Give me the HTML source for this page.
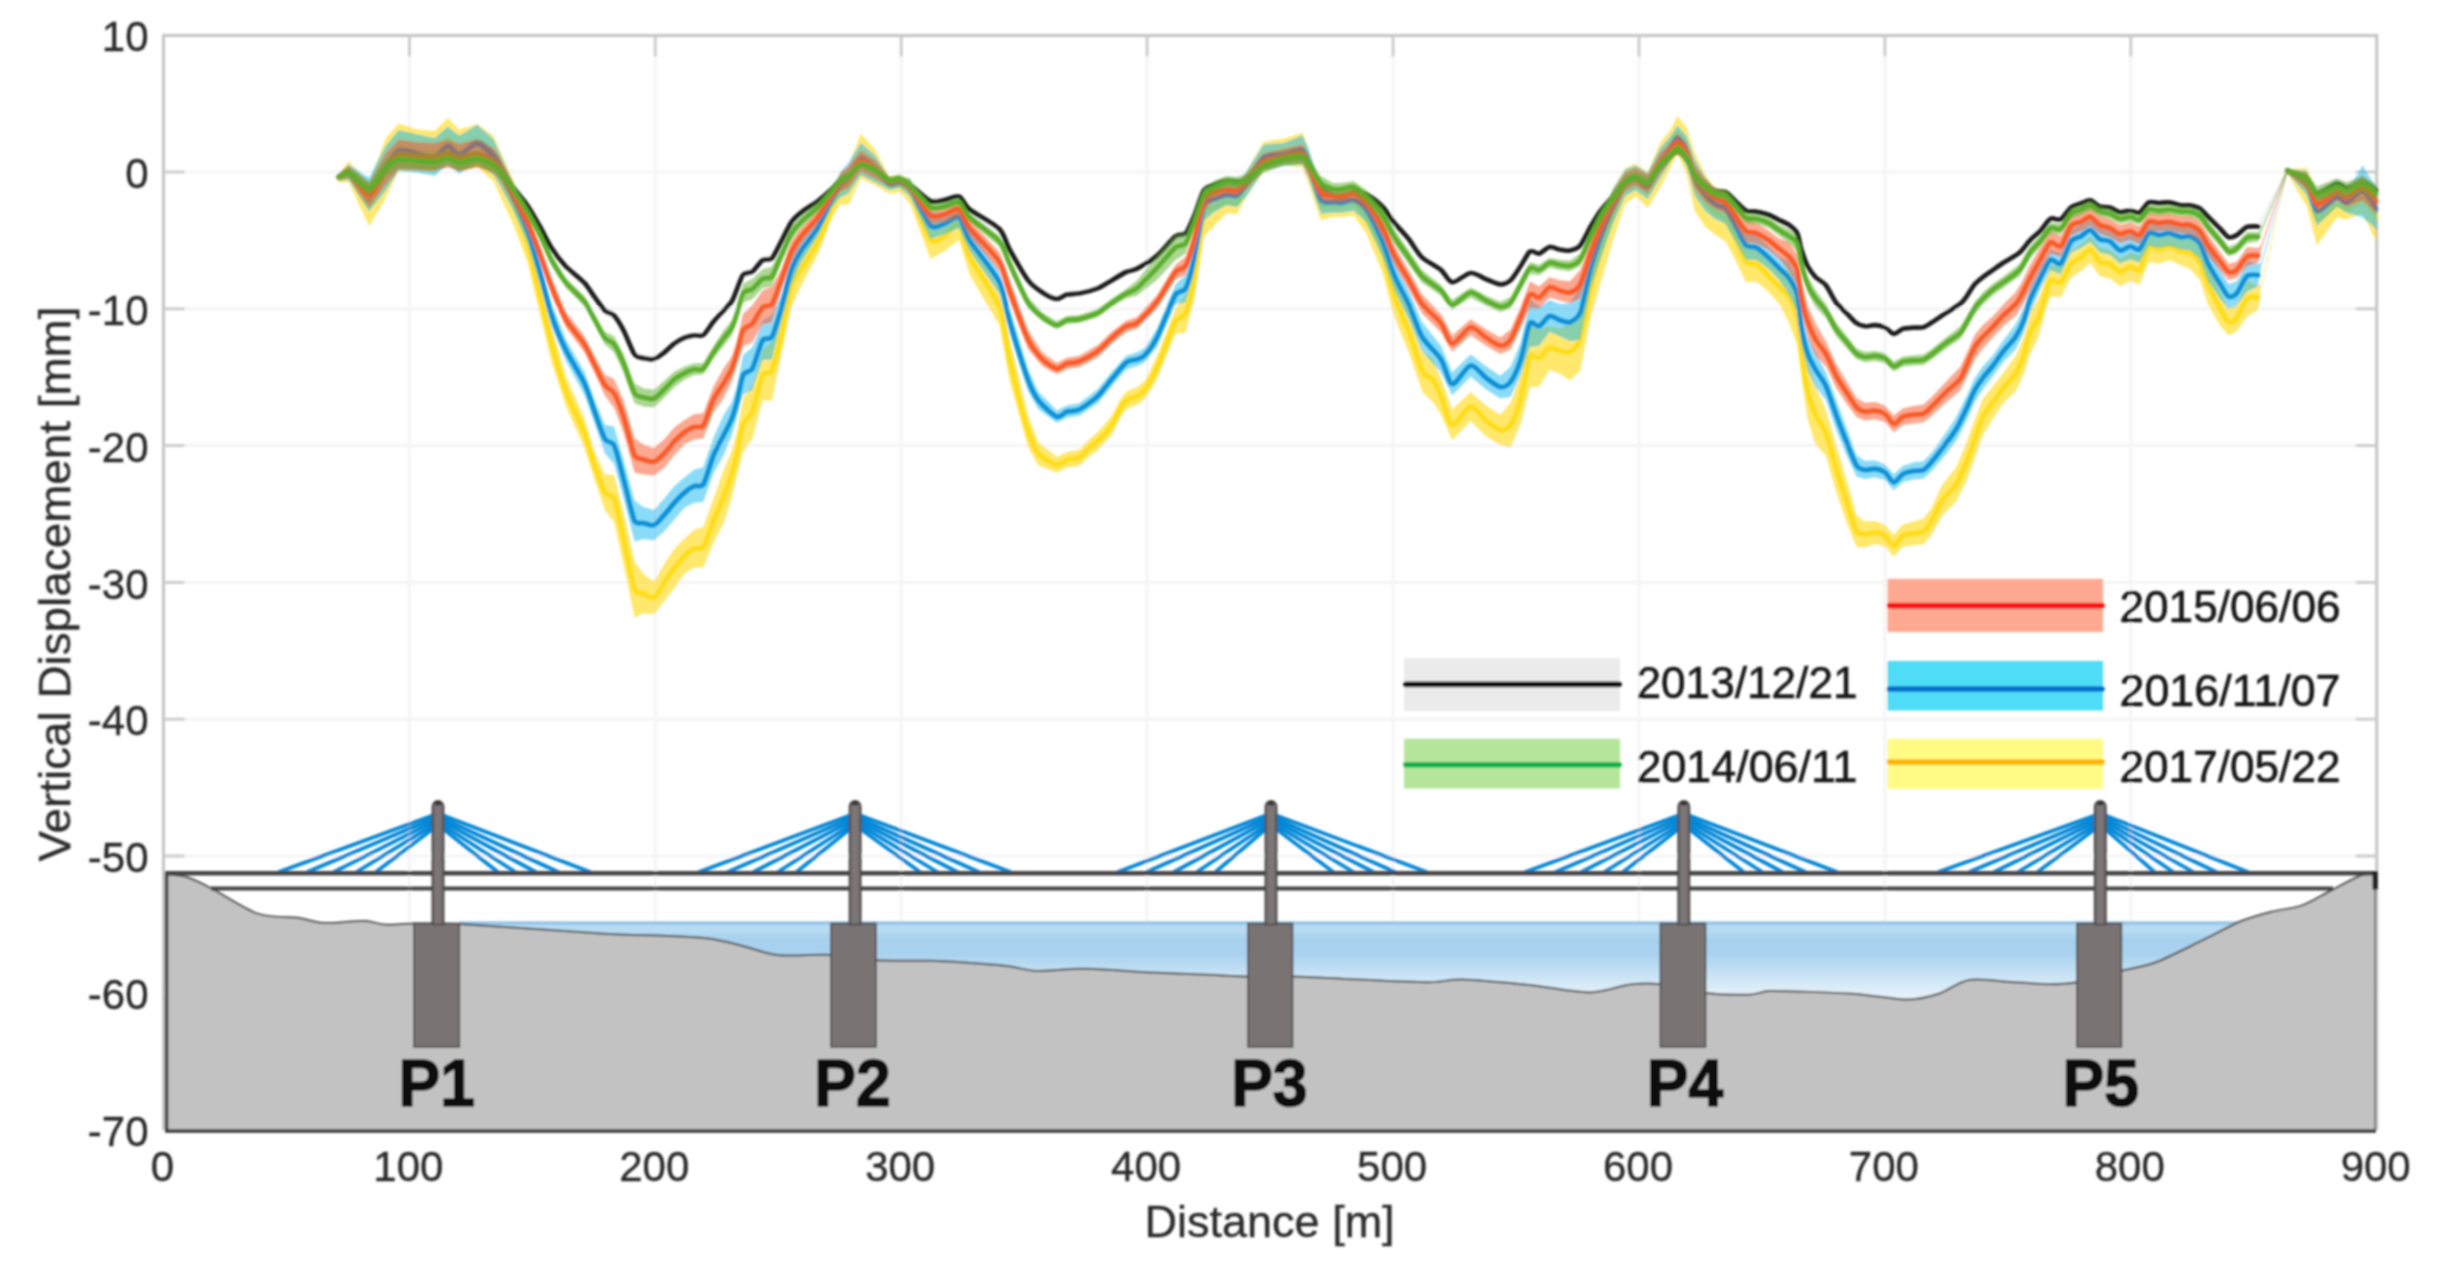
<!DOCTYPE html>
<html lang="en"><head><meta charset="utf-8"><title>Vertical displacement along bridge</title>
<style>html,body{margin:0;padding:0;background:#fff}body{width:2442px;height:1272px;overflow:hidden}svg{display:block}text{font-family:"Liberation Sans",Arial,Helvetica,sans-serif;fill:#2b2b2b;stroke:#2b2b2b;stroke-width:0.35px}</style></head><body>
<svg width="2442" height="1272" viewBox="0 0 2442 1272">
<defs>
<linearGradient id="water" x1="0" y1="921" x2="0" y2="1003" gradientUnits="userSpaceOnUse"><stop offset="0" stop-color="#7fb4dc"/><stop offset="0.03" stop-color="#8fc0e4"/><stop offset="0.05" stop-color="#b6daf2"/><stop offset="0.13" stop-color="#b7dbf3"/><stop offset="0.21" stop-color="#a7d1ee"/><stop offset="0.40" stop-color="#a8d2ef"/><stop offset="0.75" stop-color="#d5e8f7"/><stop offset="1" stop-color="#ecf5fc"/></linearGradient>
<linearGradient id="tower" x1="0" y1="0" x2="1" y2="0"><stop offset="0" stop-color="#5a5656"/><stop offset="0.25" stop-color="#7c7676"/><stop offset="0.75" stop-color="#7c7676"/><stop offset="1" stop-color="#5a5656"/></linearGradient>
<clipPath id="plot"><rect x="163.5" y="35.5" width="2214.7" height="1094.5"/></clipPath>
<filter id="soft" x="-2%" y="-2%" width="104%" height="104%"><feGaussianBlur stdDeviation="0.95"/></filter>
</defs>
<rect width="2442" height="1272" fill="#fff"/>
<g filter="url(#soft)">
<g stroke="#f5f5f5" stroke-width="3.2" fill="none">
<line x1="409.4" y1="35.5" x2="409.4" y2="1130"/>
<line x1="655.3" y1="35.5" x2="655.3" y2="1130"/>
<line x1="901.2" y1="35.5" x2="901.2" y2="1130"/>
<line x1="1147.1" y1="35.5" x2="1147.1" y2="1130"/>
<line x1="1393.1" y1="35.5" x2="1393.1" y2="1130"/>
<line x1="1639" y1="35.5" x2="1639" y2="1130"/>
<line x1="1884.9" y1="35.5" x2="1884.9" y2="1130"/>
<line x1="2130.8" y1="35.5" x2="2130.8" y2="1130"/>
<line x1="163.5" y1="172" x2="2376.7" y2="172"/>
<line x1="163.5" y1="308.8" x2="2376.7" y2="308.8"/>
<line x1="163.5" y1="445.6" x2="2376.7" y2="445.6"/>
<line x1="163.5" y1="582.4" x2="2376.7" y2="582.4"/>
<line x1="163.5" y1="719.2" x2="2376.7" y2="719.2"/>
<line x1="163.5" y1="856" x2="2376.7" y2="856"/>
<line x1="163.5" y1="992.8" x2="2376.7" y2="992.8"/>
</g>
<g stroke="#c4c4c4" stroke-width="3" fill="none">
<path d="M163.5 1130 V35.5 H2376.7 V1130"/>
</g>
<g stroke="#cbcbcb" stroke-width="2.8" fill="none">
<line x1="409.4" y1="35.5" x2="409.4" y2="56.5"/>
<line x1="655.3" y1="35.5" x2="655.3" y2="56.5"/>
<line x1="901.2" y1="35.5" x2="901.2" y2="56.5"/>
<line x1="1147.1" y1="35.5" x2="1147.1" y2="56.5"/>
<line x1="1393.1" y1="35.5" x2="1393.1" y2="56.5"/>
<line x1="1639" y1="35.5" x2="1639" y2="56.5"/>
<line x1="1884.9" y1="35.5" x2="1884.9" y2="56.5"/>
<line x1="2130.8" y1="35.5" x2="2130.8" y2="56.5"/>
<line x1="163.5" y1="172" x2="184.5" y2="172"/>
<line x1="2376.7" y1="172" x2="2355.7" y2="172"/>
<line x1="163.5" y1="308.8" x2="184.5" y2="308.8"/>
<line x1="2376.7" y1="308.8" x2="2355.7" y2="308.8"/>
<line x1="163.5" y1="445.6" x2="184.5" y2="445.6"/>
<line x1="2376.7" y1="445.6" x2="2355.7" y2="445.6"/>
<line x1="163.5" y1="582.4" x2="184.5" y2="582.4"/>
<line x1="2376.7" y1="582.4" x2="2355.7" y2="582.4"/>
<line x1="163.5" y1="719.2" x2="184.5" y2="719.2"/>
<line x1="2376.7" y1="719.2" x2="2355.7" y2="719.2"/>
<line x1="163.5" y1="856" x2="184.5" y2="856"/>
<line x1="2376.7" y1="856" x2="2355.7" y2="856"/>
<line x1="163.5" y1="992.8" x2="184.5" y2="992.8"/>
<line x1="2376.7" y1="992.8" x2="2355.7" y2="992.8"/>
</g>
<g clip-path="url(#plot)" fill="none" stroke-linejoin="round" stroke-linecap="round">
<polygon fill="#d8d8d8" fill-opacity="0.55" stroke="none" stroke-linejoin="round" points="338.8,174.5 348.7,168 369.1,196.1 385.5,160.4 398.6,142.2 418.3,147.7 434.7,149.3 447.8,141.1 459.2,147.6 477.2,136.2 493.6,148.3 500.2,160.4 512.8,182.4 527.1,200.8 539.4,221.2 551.7,243.9 566,262.8 584.4,279.2 594.7,293.6 604.9,306.8 614.1,311.7 623.3,326.1 634.6,350.9 643.8,355.1 654,356.1 664.3,349.4 674.5,340.1 684.8,334.7 694,332.2 703.2,331.9 713.4,318.4 723.7,306.5 731.8,297.4 737,285.2 743.1,270.9 752.3,268.2 762.6,257 771.8,254.6 781,238.2 791.2,218.7 801.5,208.8 817.8,197.8 832.2,185.5 840.4,176.2 848.6,172.3 860.8,161.3 875.2,167.4 889.5,177.6 899.7,175.5 910,181.6 930.5,198.1 944.8,197.2 959.1,193.6 969.4,206.2 999.4,225.5 1009.6,245.6 1028,276.7 1042.4,289.5 1056.7,296.3 1066.9,291.8 1079.2,290.8 1097.7,285.6 1112,277.4 1126.3,269.2 1136.6,266.1 1157,252.6 1175.5,233 1185.7,229.5 1193.9,213.2 1204.1,186.6 1214.4,182 1226.7,178.3 1236.9,179.2 1247.1,176.1 1263.5,158.6 1284,151.1 1302.4,148.3 1308.6,158.3 1320.8,182.7 1333.1,193.6 1341.3,195.7 1353.6,189.6 1365.9,191.6 1382.3,203.5 1394.5,219.7 1408.9,236.1 1421.8,254.2 1441,267.3 1452.2,279.7 1470.6,270.6 1486,276.7 1500.3,281.8 1510.6,277.5 1520.8,263.1 1530,248.8 1539.2,251.1 1549.5,244.6 1559.7,247.1 1569.9,248 1580.2,242.5 1590.4,223.8 1600.7,207.3 1612.9,193.3 1625.2,179.4 1635.5,175.4 1647.7,181.5 1660,164.9 1670.3,154.9 1677.4,149.9 1686.7,156.8 1694.8,173 1705.1,183.3 1715.3,188.6 1725.6,189.7 1735.8,198.9 1746,208.1 1756.3,209.2 1768.6,212.3 1778.8,217.4 1789,221.9 1797.2,229.9 1801.3,246.2 1807.5,262.5 1815.6,273.7 1825.9,282.4 1836.1,299.9 1846.4,310.3 1856.6,320.8 1864.8,324 1875,323 1884.6,325.1 1893.8,331.6 1903,326.5 1913.2,325.4 1923.5,325 1931.7,320.3 1946,310.5 1960.3,301.2 1966.5,294 1974.7,281.7 1982.9,274.6 1993.1,267.6 2003.3,260.4 2019.7,250.1 2029.9,237.7 2040.2,228.6 2050.4,216.4 2060.7,216.9 2070.9,205.3 2081.1,201.3 2090.3,198.2 2099.6,204.4 2109.8,205.4 2120,210.1 2130.3,208.5 2139.5,210.5 2148.7,200.3 2158.9,200.9 2169.2,200.3 2181.5,203.4 2189.6,203.3 2199.9,206.3 2208.1,214.4 2220.4,226.8 2228.6,235.1 2236.7,233.1 2247,224.8 2258.2,224.5 2261,219.2 2287.2,168.2 2307,174.4 2316.9,188.5 2336.8,178.8 2346.7,183.3 2362.5,177.3 2376.9,185.1 2376.9,195.4 2362.5,187.4 2346.7,193.3 2336.8,188.9 2316.9,198 2307,182.4 2287.2,172.3 2261,223.2 2258.2,228.5 2247,229.1 2236.7,237.1 2228.6,239.2 2220.4,231.2 2208.1,219 2199.9,210.7 2189.6,207.5 2181.5,207.5 2169.2,204.4 2158.9,205.1 2148.7,204.5 2139.5,214.7 2130.3,212.6 2120,214.3 2109.8,209.6 2099.6,208.6 2090.3,202.4 2081.1,205.5 2070.9,209.7 2060.7,221.5 2050.4,221.1 2040.2,233.5 2029.9,242.8 2019.7,255 2003.3,265.1 1993.1,272.3 1982.9,279.6 1974.7,286.8 1966.5,299.1 1960.3,306.3 1946,315.3 1931.7,324.9 1923.5,329.5 1913.2,329.9 1903,330.9 1893.8,336 1884.6,329.5 1875,327.5 1864.8,328.5 1856.6,325.5 1846.4,315.6 1836.1,305.5 1825.9,288.2 1815.6,280.5 1807.5,269.2 1801.3,252.7 1797.2,236.3 1789,227.9 1778.8,222.2 1768.6,217 1756.3,213.9 1746,213 1735.8,203.8 1725.6,194.6 1715.3,193.6 1705.1,188.7 1694.8,178.6 1686.7,162 1677.4,154.6 1670.3,159.8 1660,170.2 1647.7,186.4 1635.5,180.2 1625.2,184.4 1612.9,199.2 1600.7,213.8 1590.4,230.1 1580.2,248.2 1569.9,253 1559.7,251.9 1549.5,249.4 1539.2,256.1 1530,254.3 1520.8,268.6 1510.6,282.9 1500.3,286.7 1486,281.6 1470.6,275.5 1452.2,284.7 1441,272.6 1421.8,260.1 1408.9,242.4 1394.5,226 1382.3,209.4 1365.9,196.8 1353.6,194.7 1341.3,200.8 1333.1,198.9 1320.8,189.3 1308.6,164.5 1302.4,154.1 1284,156.2 1263.5,164.2 1247.1,181.6 1236.9,184.6 1226.7,183.5 1214.4,187.9 1204.1,193.6 1193.9,220.2 1185.7,236.7 1175.5,239.3 1157,258.6 1136.6,271.7 1126.3,274.8 1112,283 1097.7,291.1 1079.2,296.2 1066.9,297.2 1056.7,301.7 1042.4,295.4 1028,283.6 1009.6,253.3 999.4,232.5 969.4,212.1 959.1,199.3 944.8,202.7 930.5,203.8 910,187.5 899.7,181.3 889.5,183.3 875.2,173.1 860.8,166.9 848.6,178.4 840.4,182.7 832.2,191.9 817.8,204.1 801.5,215.6 791.2,226.2 781,245.6 771.8,261.9 762.6,263.6 752.3,275 743.1,278.4 737,292.8 731.8,305.1 723.7,314.5 713.4,325.1 703.2,338.2 694,338.3 684.8,340.7 674.5,346.4 664.3,355.5 654,362 643.8,361.3 634.6,358.1 623.3,333.8 614.1,319.6 604.9,314.2 594.7,300.8 584.4,286.5 566,270.2 551.7,252.2 539.4,229.8 527.1,209.3 512.8,190.9 500.2,169.9 493.6,159.2 477.2,148.3 459.2,159.8 447.8,153.2 434.7,161.4 418.3,159.7 398.6,155.4 385.5,176.5 369.1,208 348.7,175.5 338.8,178.8"/>
<path stroke="#1e1e1e" stroke-width="4.7" d="M338.8 176.6C340.1 176 345.5 169 348.7 171.7C352.7 175.1 364.2 202.5 369.1 202C374.1 201.6 381.6 175.6 385.5 168.5C389.5 161.4 394.3 150.8 398.6 148.8C403 146.8 413.5 152.8 418.3 153.7C423.1 154.6 430.7 156.2 434.7 155.3C438.6 154.5 444.5 147.4 447.8 147.2C451 146.9 455.3 154.4 459.2 153.7C463.2 153.1 472.7 142.2 477.2 142.2C481.8 142.2 490.6 150.7 493.6 153.7C496.7 156.8 497.7 160.8 500.2 165.2C502.7 169.6 509.2 181.3 512.8 186.6C516.3 191.9 523.5 199.9 527.1 205C530.6 210.2 536.1 219.8 539.4 225.5C542.7 231.3 548.1 242.6 551.7 248C555.2 253.5 561.6 261.8 566 266.5C570.4 271.1 580.6 278.8 584.4 282.9C588.2 286.9 591.9 293.5 594.7 297.2C597.4 300.9 602.3 308 604.9 310.5C607.5 312.9 611.7 313 614.1 315.6C616.6 318.2 620.6 324.8 623.3 329.9C626.1 335.1 631.9 350.7 634.6 354.5C636.8 357.6 641.2 357.6 643.8 358.2C646.4 358.8 651.3 359.8 654 359C656.8 358.3 661.5 354.6 664.3 352.5C667 350.4 671.8 345.2 674.5 343.3C677.2 341.3 682.2 338.8 684.8 337.7C687.3 336.7 691.5 335.6 694 335.3C696.4 334.9 700.6 336.9 703.2 335.1C705.8 333.3 710.7 325 713.4 321.8C716.1 318.5 721.2 313.2 723.7 310.5C726.1 307.8 730.1 304.1 731.8 301.3C733.6 298.4 735.5 292.5 737 289C738.5 285.4 741.1 277 743.1 274.7C745.2 272.3 749.7 273.5 752.3 271.6C754.9 269.7 760 262.1 762.6 260.3C765.1 258.6 769.3 260.7 771.8 258.3C774.2 255.8 778.4 246.7 781 241.9C783.6 237.1 788.5 226.4 791.2 222.4C794 218.5 797.9 215.1 801.5 212.2C805 209.3 813.7 204.1 817.8 201C821.9 197.8 829.2 191.5 832.2 188.7C835.2 185.8 838.2 181.2 840.4 179.5C842.5 177.7 845.8 177.4 848.6 175.4C851.3 173.3 857.3 164.8 860.8 164.1C864.4 163.4 871.3 168.1 875.2 170.2C879 172.4 886.2 179.4 889.5 180.5C892.8 181.6 897 177.9 899.7 178.4C902.5 179 906.3 181.9 910 184.6C914.1 187.6 925.8 198.9 930.5 201C935.1 203 941 200.5 944.8 199.9C948.6 199.3 955.8 195.2 959.1 196.4C962.4 197.7 964.5 205.2 969.4 209.1C974.7 213.5 994 223.6 999.4 229C1004.7 234.4 1005.8 242.6 1009.6 249.5C1013.4 256.3 1023.7 274.4 1028 280.2C1032.4 285.9 1038.6 290 1042.4 292.5C1046.2 295 1053.4 298.7 1056.7 299C1060 299.3 1063.9 295.2 1066.9 294.5C1069.9 293.8 1075.1 294.3 1079.2 293.5C1083.3 292.7 1093.3 290.1 1097.7 288.4C1102 286.6 1108.2 282.4 1112 280.2C1115.8 278 1123 273.5 1126.3 272C1129.6 270.5 1133 270.8 1136.6 268.9C1140.7 266.7 1151.8 260 1157 255.6C1162.2 251.2 1171.6 239.2 1175.5 236.2C1178.7 233.6 1183.2 235.7 1185.7 233.1C1188.2 230.5 1191.4 222.4 1193.9 216.7C1196.3 211 1201.4 194.3 1204.1 190.1C1206.5 186.4 1211.4 186.2 1214.4 185C1217.4 183.7 1223.6 181.3 1226.7 180.9C1229.7 180.5 1234.2 182.2 1236.9 181.9C1239.6 181.6 1243.9 181.3 1247.1 178.8C1250.7 176.1 1258.6 164.8 1263.5 161.4C1268.4 158.1 1278.8 155 1284 153.6C1289.2 152.3 1299.1 150.2 1302.4 151.2C1305.7 152.2 1306.4 157.4 1308.6 161.4C1311 166.1 1317.6 181.4 1320.8 186C1324.1 190.6 1330.4 194.6 1333.1 196.2C1335.9 197.9 1338.6 198.8 1341.3 198.3C1344 197.7 1350.3 192.7 1353.6 192.1C1356.9 191.6 1362.1 192.3 1365.9 194.2C1369.7 196.1 1378.4 202.6 1382.3 206.5C1386.1 210.3 1391 218.5 1394.5 222.9C1398.1 227.2 1405.2 234.7 1408.9 239.2C1412.5 243.8 1417.6 253.1 1421.8 257.1C1426.1 261.2 1436.9 266.6 1441 269.9C1445 273.3 1448.3 281.8 1452.2 282.2C1456.2 282.6 1466.1 273.4 1470.6 273C1475.1 272.6 1482 277.7 1486 279.2C1490 280.7 1497.1 284.1 1500.3 284.3C1503.6 284.4 1507.8 282.6 1510.6 280.2C1513.3 277.7 1518.2 269.7 1520.8 265.8C1523.4 262 1527.6 253.2 1530 251.5C1532.5 249.9 1536.6 254.2 1539.2 253.6C1541.8 253 1546.7 247.6 1549.5 247C1552.2 246.5 1557 249 1559.7 249.5C1562.4 249.9 1567.2 251 1569.9 250.5C1572.7 249.9 1577.5 248.5 1580.2 245.4C1582.9 242.2 1587.7 231.6 1590.4 226.9C1593.1 222.3 1597.7 214.7 1600.7 210.6C1603.7 206.5 1609.7 200.1 1612.9 196.2C1616.2 192.4 1622.2 184.4 1625.2 181.9C1628.2 179.4 1632.5 177.5 1635.5 177.8C1638.5 178.1 1644.5 185.3 1647.7 183.9C1651 182.6 1657 171.1 1660 167.6C1663 164 1667.9 159.4 1670.3 157.3C1672.6 155.3 1675.3 151.9 1677.4 152.2C1679.6 152.5 1684.3 156.2 1686.7 159.4C1689 162.5 1692.4 172.2 1694.8 175.8C1697.3 179.3 1702.3 183.9 1705.1 186C1707.8 188 1712.6 190.3 1715.3 191.1C1718 191.9 1722.8 190.8 1725.6 192.1C1728.3 193.5 1733.1 198.9 1735.8 201.4C1738.5 203.8 1743.3 209.2 1746 210.6C1748.8 211.9 1753.3 211 1756.3 211.6C1759.3 212.1 1765.5 213.6 1768.6 214.7C1771.6 215.8 1776.1 218.4 1778.8 219.8C1781.5 221.1 1786.6 223.1 1789 224.9C1791.5 226.7 1795.6 229.8 1797.2 233.1C1798.9 236.4 1799.9 245.1 1801.3 249.5C1802.7 253.8 1805.5 262.2 1807.5 265.8C1809.4 269.5 1813.2 274.5 1815.6 277.1C1818.1 279.7 1823.2 281.9 1825.9 285.3C1828.6 288.7 1833.4 299 1836.1 302.7C1838.8 306.4 1843.6 310.2 1846.4 312.9C1849.1 315.7 1854.1 321.4 1856.6 323.2C1859 325 1862.3 326 1864.8 326.2C1867.2 326.5 1872.4 325.1 1875 325.2C1877.7 325.4 1882.1 326.1 1884.6 327.3C1887.1 328.4 1891.3 333.6 1893.8 333.8C1896.2 334 1900.4 329.5 1903 328.7C1905.6 327.9 1910.5 327.9 1913.2 327.7C1916 327.5 1921 328 1923.5 327.3C1925.9 326.6 1928.7 324.5 1931.7 322.6C1934.7 320.7 1942.2 315.5 1946 312.9C1949.8 310.4 1957.6 305.9 1960.3 303.7C1963.1 301.5 1964.6 299.2 1966.5 296.6C1968.4 294 1972.5 286.9 1974.7 284.3C1976.8 281.7 1980.4 279 1982.9 277.1C1985.3 275.2 1990.4 271.9 1993.1 269.9C1995.8 268 1999.8 265.1 2003.3 262.8C2006.9 260.5 2016.2 255.5 2019.7 252.5C2023.3 249.5 2027.2 243.1 2029.9 240.3C2032.7 237.4 2037.5 233.9 2040.2 231C2042.9 228.2 2047.7 220.3 2050.4 218.8C2053.1 217.2 2057.9 220.7 2060.7 219.2C2063.4 217.7 2068.2 209.6 2070.9 207.5C2073.6 205.4 2078.5 204.4 2081.1 203.4C2083.7 202.4 2087.9 199.9 2090.3 200.3C2092.8 200.7 2097 205.5 2099.6 206.5C2102.2 207.4 2107.1 206.7 2109.8 207.5C2112.5 208.3 2117.3 211.8 2120 212.2C2122.8 212.6 2127.7 210.5 2130.3 210.6C2132.9 210.6 2137 213.7 2139.5 212.6C2141.9 211.5 2146.1 203.7 2148.7 202.4C2151.3 201.1 2156.2 203 2158.9 203C2161.7 203 2166.2 202 2169.2 202.4C2172.2 202.7 2178.7 205 2181.5 205.4C2184.2 205.9 2187.2 205 2189.6 205.4C2192.1 205.9 2197.4 207 2199.9 208.5C2202.3 210 2205.3 214 2208.1 216.7C2210.8 219.4 2217.6 226.3 2220.4 229C2223.1 231.7 2226.4 236.4 2228.6 237.2C2230.7 238 2234.3 236.5 2236.7 235.1C2239.2 233.8 2244.1 228.1 2247 226.9C2249.8 225.8 2256.7 226.6 2258.2 226.5"/>
<path stroke="#1e1e1e" stroke-width="4.7" d="M2287.2 170.3C2289.8 171.3 2303.1 175.3 2307 178.4C2311 181.4 2313 192.5 2316.9 193.2C2320.9 194 2332.8 184.5 2336.8 183.8C2340.7 183.2 2343.2 188.5 2346.7 188.3C2350.1 188.1 2358.5 182.1 2362.5 182.3C2366.6 182.6 2375 189.2 2376.9 190.3"/>
<polygon fill="#ffd800" fill-opacity="0.58" stroke="none" stroke-linejoin="round" points="338.8,173.7 348.7,161.2 369.1,182.7 385.5,138.5 398.6,123.4 418.3,129.4 434.7,130.9 447.8,117.9 459.2,129.4 477.2,124 493.6,135.7 500.2,150.5 512.8,178.7 527.1,223 539.4,274.4 551.7,326.4 566,376.3 576.2,399.5 584.4,418.1 594.7,451.7 604.9,474.6 614.1,474.7 623.3,511.3 634.6,561.6 643.8,574.5 654,581.2 664.3,563.9 674.5,548.4 684.8,538.3 694,529.8 703.2,527 713.4,498.9 723.7,469.8 731.8,450.4 737,431.2 743.1,397.5 752.3,384.6 762.6,349.3 771.8,341.2 781,315.4 791.2,266.1 801.5,252.1 817.8,229.4 832.2,197 840.4,172.5 848.6,165.8 860.8,133.4 875.2,149.4 889.5,177 899.7,175.7 910,178.1 930.5,220.8 944.8,220.7 959.1,207.2 969.4,238.3 999.4,288.4 1009.6,338.4 1028,415.2 1038.3,441.7 1056.7,457.1 1066.9,452 1079.2,449.6 1089.5,439 1097.7,432.1 1112,415.4 1120.2,399.4 1126.3,391.4 1136.6,387.3 1144.8,380.7 1157,355.9 1165.2,335.6 1175.5,308.3 1185.7,293.6 1193.9,259.7 1204.1,190.6 1214.4,189.6 1226.7,189.6 1236.9,190.6 1247.1,170 1263.5,141.8 1284,138.5 1302.4,132.4 1308.6,149.1 1320.8,189 1333.1,193.9 1341.3,195 1353.6,191.4 1365.9,202.9 1382.3,230.9 1394.5,275.3 1408.9,310.3 1422.5,351.1 1432.8,358 1441,378 1452.2,409.5 1470.6,392.1 1486,405.4 1500.3,414.9 1510.6,402.5 1520.8,373 1530,324.9 1539.2,329.3 1549.5,325.7 1559.7,328.2 1569.9,323.2 1580.2,308.6 1590.4,261.6 1600.7,220.5 1612.9,189.1 1625.2,167.9 1635.5,163.4 1647.7,172.3 1660,143 1670.3,130.1 1677.4,116.1 1686.7,127.8 1694.8,152.9 1705.1,174.1 1715.3,190.4 1725.6,196 1735.8,217.6 1746,241.3 1756.3,246.2 1768.6,260.4 1778.8,269.5 1789,270.3 1797.2,289 1801.3,321 1807.5,361.2 1815.6,384.9 1825.9,410.1 1836.1,444.3 1846.4,479.2 1856.6,515.6 1864.8,521.6 1875,521.1 1884.6,524.5 1893.8,534.7 1903,524.4 1913.2,521.5 1923.5,518.5 1931.7,507.4 1941.9,485.2 1956.2,466.9 1966.5,442.6 1974.7,419.8 1982.9,398.4 1993.1,386.3 2003.3,372.9 2015.6,356 2023.8,336.2 2029.9,311.7 2038.1,298.8 2046.3,275.8 2050.4,263.9 2060.7,267.2 2070.9,249.9 2081.1,244.2 2090.3,236 2099.6,247.4 2109.8,249.2 2120,258 2130.3,252.4 2139.5,255.1 2148.7,232.9 2158.9,235.2 2169.2,232.8 2181.5,237.6 2189.6,236.6 2199.9,243.4 2208.1,263.7 2220.4,291.6 2228.6,308.7 2236.7,304.8 2247,280.4 2258.2,285.4 2261,283.4 2287.2,169.3 2307,167.7 2316.9,192.6 2336.8,192.6 2346.7,198.9 2362.5,184.7 2376.9,191.9 2376.9,242.2 2362.5,213.7 2346.7,219.3 2336.8,217.6 2316.9,245.4 2307,206.8 2287.2,173.6 2261,287.8 2258.2,309.7 2247,316.8 2236.7,331.3 2228.6,335.6 2220.4,326.1 2208.1,304.8 2199.9,280.1 2189.6,268.5 2181.5,265.4 2169.2,260 2158.9,263.7 2148.7,262 2139.5,284.7 2130.3,281.3 2120,286 2109.8,278.4 2099.6,276.1 2090.3,262.9 2081.1,271.1 2070.9,277.7 2060.7,297.2 2050.4,296.5 2046.3,309.1 2038.1,338.2 2029.9,353.9 2023.8,374.3 2015.6,391.4 2003.3,403.2 1993.1,418.5 1982.9,435 1974.7,458.6 1966.5,480.9 1956.2,501.6 1941.9,516.1 1931.7,534.9 1923.5,544.2 1913.2,545.3 1903,546.5 1893.8,556.7 1884.6,546.5 1875,543.7 1864.8,547.2 1856.6,547.1 1846.4,522.1 1836.1,491.4 1825.9,456 1815.6,444.4 1807.5,419 1801.3,377.3 1797.2,345.1 1789,322.8 1778.8,303.2 1768.6,291.7 1756.3,281.4 1746,282.2 1735.8,260.8 1725.6,241.5 1715.3,234.8 1705.1,226.6 1694.8,210.9 1686.7,174.6 1677.4,153.6 1670.3,168.2 1660,188.1 1647.7,207.9 1635.5,196.3 1625.2,204.1 1612.9,240.2 1600.7,282.5 1590.4,319.2 1580.2,370.6 1569.9,380.5 1559.7,373.4 1549.5,369.8 1539.2,386.6 1530,386.9 1520.8,423.6 1510.6,447.3 1500.3,445.2 1486,436.2 1470.6,420.9 1452.2,440.3 1441,414.5 1432.8,401.7 1422.5,392.2 1408.9,352.5 1394.5,317.8 1382.3,272.1 1365.9,232.6 1353.6,215.4 1341.3,217.1 1333.1,217 1320.8,219.9 1308.6,184 1302.4,167.9 1284,164.7 1263.5,171.6 1247.1,195.8 1236.9,214.2 1226.7,213.1 1214.4,225.4 1204.1,236.7 1193.9,300.6 1185.7,332.3 1175.5,334 1165.2,358.6 1157,379.3 1144.8,399.5 1136.6,405.1 1126.3,409.2 1120.2,417.6 1112,434.4 1097.7,450.5 1089.5,455.9 1079.2,465.7 1066.9,467.4 1056.7,472.5 1038.3,465.4 1028,446.9 1009.6,380.4 999.4,325.2 969.4,274.2 959.1,239.8 944.8,250.8 930.5,258.9 910,203.4 899.7,192.2 889.5,193.8 875.2,185.3 860.8,178.8 848.6,204.5 840.4,204.8 832.2,217.2 817.8,254.4 801.5,285 791.2,307.8 781,356.7 771.8,400.6 762.6,400.6 752.3,439.1 743.1,452.1 737,475.8 731.8,497.5 723.7,523.1 713.4,543.1 703.2,567.5 694,567.6 684.8,573.4 674.5,587.9 664.3,601.1 654,614.5 643.8,612.9 634.6,617.7 623.3,563.6 614.1,522.3 604.9,510.2 594.7,479.8 584.4,447.9 576.2,429.7 566,406.5 551.7,362.2 539.4,311.8 527.1,260.8 512.8,223.2 500.2,196.2 493.6,181.6 477.2,167 459.2,171.4 447.8,160 434.7,173.2 418.3,171.5 398.6,170.9 385.5,198.4 369.1,226.3 348.7,182.2 338.8,182.8"/>
<path stroke="#ffdc14" stroke-width="4.7" d="M338.8 178.3C340.1 177.4 345.3 168.8 348.7 171.7C352.7 175.2 364.2 204.9 369.1 204.5C374.1 204.1 381.6 176.1 385.5 168.5C389.5 160.8 394.3 149.6 398.6 147.2C403 144.8 413.5 149.8 418.3 150.4C423.1 151.1 430.7 153.6 434.7 152.1C438.6 150.5 444.5 139.2 447.8 139C451 138.7 455.3 149.6 459.2 150.4C463.2 151.3 472.7 144.4 477.2 145.5C481.8 146.6 490.6 154.9 493.6 158.6C496.7 162.3 497.7 167.8 500.2 173.4C502.7 179 509.2 191.8 512.8 201C516.3 210.1 523.5 229.6 527.1 241.9C530.6 254.2 536.1 279.4 539.4 293.1C542.7 306.7 548.1 331.2 551.7 344.3C555.2 357.4 562.7 382 566 391.4C569.2 400.5 573.8 409 576.2 414.6C578.7 420.1 582 426.2 584.4 433C586.9 439.8 591.9 457.8 594.7 465.8C597.4 473.7 602.3 488 604.9 492.4C607 496 612.5 494.6 614.1 498.5C616.6 504.5 620.6 525.3 623.3 537.4C626.1 549.6 631.9 582.1 634.6 589.6C635.9 593.2 641.2 592.6 643.8 593.7C646.4 594.8 651.3 599.3 654 597.8C656.8 596.3 661.5 586.4 664.3 582.5C667 578.5 671.8 571.7 674.5 568.1C677.2 564.6 682.2 558.4 684.8 555.8C687.3 553.3 691.5 549.8 694 548.7C696.4 547.5 701.1 550.1 703.2 547.2C705.8 543.6 710.7 527.8 713.4 521C716.1 514.3 721.2 502.7 723.7 496.5C726.1 490.2 730.1 479.7 731.8 473.9C733.6 468.2 735.5 460 737 453.5C738.5 446.9 741.1 430.4 743.1 424.8C745.2 419.3 750.1 417.5 752.3 411.8C754.9 405.2 760 380.4 762.6 375C764.2 371.5 770.1 374.4 771.8 370.9C774.2 365.7 778.4 347.3 781 336.1C783.6 324.9 788.5 296 791.2 286.9C793.5 279.3 797.9 274.5 801.5 268.5C805 262.5 813.7 250.1 817.8 241.9C821.9 233.7 829.2 214.2 832.2 207.1C835.2 200 838.2 191.6 840.4 188.7C842.4 186 846.8 188 848.6 185.2C851.3 180.8 857.3 158.5 860.8 156.1C864.4 153.7 871.3 163.5 875.2 167.4C879 171.3 886.2 183.2 889.5 185.4C892.8 187.6 897 183.2 899.7 184C902.5 184.7 907.7 186.6 910 190.7C914.1 198.2 925.8 233.8 930.5 239.9C933.9 244.3 941 237.9 944.8 235.8C948.6 233.6 955.8 220.7 959.1 223.5C962.4 226.2 964 245.1 969.4 256.2C974.7 267.3 994 293 999.4 306.8C1004.7 320.6 1005.8 342.8 1009.6 359.4C1013.4 375.9 1024.2 418.5 1028 431C1030.8 440 1034.5 449.1 1038.3 453.6C1042.1 458.1 1052.9 464 1056.7 464.8C1060.5 465.6 1063.9 460.7 1066.9 459.7C1069.9 458.7 1076.2 459.3 1079.2 457.7C1082.2 456 1087 449.6 1089.5 447.4C1091.9 445.2 1094.9 444 1097.7 441.3C1100.7 438.3 1109 429.3 1112 424.9C1115 420.5 1118.3 411.8 1120.2 408.5C1122.1 405.2 1124.1 402 1126.3 400.3C1128.5 398.7 1134.1 397.6 1136.6 396.2C1139 394.9 1142.5 393.3 1144.8 390.1C1147.5 386.3 1154.3 373.3 1157 367.6C1159.8 361.8 1162.8 353.3 1165.2 347.1C1167.7 340.9 1172.7 325.7 1175.5 321.1C1178 316.9 1183.7 317.5 1185.7 312.9C1188.2 307.5 1191.5 292.8 1193.9 280.2C1196.3 266.9 1201.4 223.3 1204.1 213.6C1205.4 209.3 1211.4 209.1 1214.4 207.5C1217.4 205.9 1223.6 202 1226.7 201.4C1229.7 200.7 1234.2 204.8 1236.9 202.4C1239.6 199.9 1243.6 189 1247.1 182.9C1250.7 176.8 1258.6 160.9 1263.5 156.7C1268.4 152.5 1278.8 152.5 1284 151.6C1289.2 150.7 1299.1 148.2 1302.4 150.2C1305.7 152.2 1306.4 160.2 1308.6 166.5C1311 173.8 1317.6 199.2 1320.8 204.4C1323.3 208.4 1330.4 205.2 1333.1 205.4C1335.9 205.7 1338.6 206.3 1341.3 206.1C1344 205.8 1350.3 201.8 1353.6 203.4C1356.9 205 1362.2 211.6 1365.9 217.7C1369.7 224.1 1378.4 241 1382.3 251.5C1386.1 262 1391 285.9 1394.5 296.6C1398.1 307.2 1405.1 321.4 1408.9 331.4C1412.6 341.4 1419.3 365.2 1422.5 371.7C1424.7 376.1 1430.3 376.6 1432.8 379.9C1435.2 383.1 1438.4 390.2 1441 396.2C1443.5 402.2 1448.3 423.5 1452.2 424.9C1456.2 426.3 1466.1 407 1470.6 406.5C1475.1 405.9 1482 417.7 1486 420.8C1490 423.9 1497.1 429.5 1500.3 430C1503.6 430.6 1508.2 428.6 1510.6 424.9C1513.3 420.7 1518.2 407.5 1520.8 398.3C1523.4 389.1 1527.6 361.3 1530 355.9C1531.5 352.7 1536.6 359.1 1539.2 358C1541.8 356.9 1546.7 348.7 1549.5 347.7C1552.2 346.8 1557 350.3 1559.7 350.8C1562.4 351.4 1567.2 353.3 1569.9 351.8C1572.7 350.3 1578.3 345.3 1580.2 339.6C1582.9 331.4 1587.7 302.2 1590.4 290.4C1593.1 278.7 1597.7 261.6 1600.7 251.5C1603.7 241.4 1609.7 223.4 1612.9 214.7C1616.2 205.9 1622.2 190.6 1625.2 186C1627.7 182.2 1632.5 179.3 1635.5 179.9C1638.5 180.4 1644.5 192 1647.7 190.1C1651 188.2 1657 171 1660 165.5C1663 160.1 1667.9 153.2 1670.3 149.1C1672.6 145 1675.3 134.5 1677.4 134.8C1679.6 135.1 1684.3 144.9 1686.7 151.2C1689 157.5 1692.4 175.3 1694.8 181.9C1697.3 188.5 1702.3 196.2 1705.1 200.3C1707.8 204.4 1712.6 210.2 1715.3 212.6C1718 215.1 1722.8 215.2 1725.6 218.8C1728.3 222.3 1733.1 233.5 1735.8 239.2C1738.5 245 1743.3 258.5 1746 261.8C1748.6 264.8 1753.3 261.9 1756.3 263.8C1759.3 265.7 1765.5 273.1 1768.6 276.1C1771.6 279.1 1776.1 283.6 1778.8 286.3C1781.5 289.1 1786.6 292.5 1789 296.6C1791.5 300.7 1795.6 310 1797.2 317C1798.9 324 1799.9 339.4 1801.3 349.1C1802.7 358.9 1805.5 381.4 1807.5 390.1C1809.4 398.8 1813.2 408.9 1815.6 414.7C1818.1 420.4 1823.2 426 1825.9 433.1C1828.6 440.2 1833.4 458.9 1836.1 467.9C1838.8 476.9 1843.6 492.2 1846.4 500.7C1849.1 509.1 1854.1 526.9 1856.6 531.4C1858.2 534.3 1862.3 534.3 1864.8 534.4C1867.2 534.6 1872.4 532.3 1875 532.4C1877.7 532.5 1882.1 533.7 1884.6 535.5C1887.1 537.2 1891.3 545.7 1893.8 545.7C1896.2 545.7 1900.4 537.1 1903 535.5C1905.6 533.8 1910.5 534 1913.2 533.4C1916 532.9 1921 533 1923.5 531.4C1925.9 529.7 1929.2 525.2 1931.7 521.1C1934.1 517 1938.6 505.6 1941.9 500.7C1945.2 495.7 1953 489.5 1956.2 484.3C1959.5 479.1 1964 467.8 1966.5 461.8C1968.9 455.7 1972.5 445.2 1974.7 439.2C1976.8 433.2 1980.4 421.6 1982.9 416.7C1985.3 411.8 1990.4 406.2 1993.1 402.4C1995.8 398.6 2000.3 391.9 2003.3 388C2006.3 384.2 2012.9 378.1 2015.6 373.7C2018.3 369.3 2021.9 360.7 2023.8 355.3C2025.7 349.8 2028 337.7 2029.9 332.8C2031.9 327.9 2035.9 323.8 2038.1 318.5C2040.3 313.1 2044.7 297.6 2046.3 292.5C2047.8 287.8 2048.5 281.5 2050.4 280.2C2052.3 278.8 2057.9 284.4 2060.7 282.2C2063.4 280 2068.2 267.1 2070.9 263.8C2073.6 260.5 2078.5 259.6 2081.1 257.7C2083.7 255.7 2087.9 248.9 2090.3 249.5C2092.8 250 2097 259.8 2099.6 261.8C2102.2 263.7 2107.1 262.4 2109.8 263.8C2112.5 265.2 2117.3 271.6 2120 272C2122.8 272.4 2127.7 267.1 2130.3 266.9C2132.9 266.6 2137 272.5 2139.5 269.9C2141.9 267.3 2146.1 250.2 2148.7 247.4C2151.3 244.7 2156.2 249.6 2158.9 249.5C2161.7 249.3 2166.2 246.1 2169.2 246.4C2172.2 246.7 2178.7 250.7 2181.5 251.5C2184.2 252.3 2187.2 251.2 2189.6 252.5C2192.1 253.9 2197.4 257.5 2199.9 261.8C2202.3 266 2205.3 278 2208.1 284.3C2210.8 290.6 2217.6 303.8 2220.4 308.8C2223.1 313.9 2226.4 320.9 2228.6 322.2C2230.7 323.4 2234.6 320.8 2236.7 318.1C2239.2 314.9 2244.1 301.3 2247 298.6C2249.8 295.9 2256.7 297.7 2258.2 297.6"/>
<path stroke="#ffdc14" stroke-width="4.7" d="M2287.2 171.4C2289.8 173.6 2303.1 181 2307 187.3C2311 193.6 2313 216.6 2316.9 219C2320.9 221.4 2332.8 206.5 2336.8 205.1C2340.6 203.9 2343.2 209.9 2346.7 209.1C2350.1 208.3 2358.5 198.1 2362.5 199.2C2366.6 200.2 2375 214.6 2376.9 217"/>
<polygon fill="#10b8f2" fill-opacity="0.5" stroke="none" stroke-linejoin="round" points="338.8,174.1 348.7,164.4 369.1,177.8 385.5,145.9 398.6,130 418.3,134.6 434.7,137.9 447.8,126.4 459.2,135.4 477.2,124.8 493.6,138.9 500.2,153.9 512.8,181.9 527.1,218.1 539.4,258.6 551.7,303.5 566,339.8 584.4,371.5 594.7,400.3 604.9,424.7 614.1,426.8 623.3,458.7 634.6,500.7 643.8,507.2 654,509.7 664.3,498.6 674.5,486 684.8,477.2 694,469.7 703.2,467.3 713.4,437.8 723.7,414.9 731.8,402.3 737,386.5 743.1,355.1 752.3,347.4 762.6,320.4 771.8,314.7 781,295.1 791.2,256.2 801.5,238.5 817.8,218.6 832.2,191.3 840.4,171.6 848.6,162.5 860.8,142.8 875.2,155.4 889.5,177.9 899.7,177 910,178.6 930.5,211.9 944.8,212.7 959.1,206.8 969.4,228.8 999.4,270.8 1009.6,308.1 1028,368.9 1038.3,391.4 1056.7,410.6 1066.9,405.6 1079.2,403.2 1097.7,389.2 1112,371.6 1126.3,355.7 1136.6,352.5 1144.8,348 1157,328.5 1175.5,284.4 1185.7,274.2 1193.9,245.2 1204.1,188.3 1214.4,186.3 1226.7,184.3 1236.9,184.4 1247.1,170.3 1263.5,144.5 1284,142.7 1302.4,135.2 1308.6,148.7 1320.8,186.4 1333.1,191.7 1341.3,192.8 1353.6,189.6 1365.9,197.3 1382.3,225.9 1394.5,261.2 1408.9,289.9 1421.8,321.8 1441,345.9 1452.2,372.6 1470.6,354.5 1486,366.3 1500.3,375.8 1510.6,366.7 1520.8,342.6 1530,299.3 1539.2,306.7 1549.5,300 1559.7,303.9 1569.9,303 1580.2,286.1 1590.4,251 1600.7,216.3 1612.9,189.1 1625.2,169.6 1635.5,165.5 1647.7,172.8 1660,148.2 1670.3,136.3 1677.4,125.5 1686.7,136.1 1694.8,159.6 1705.1,177.3 1715.3,189.5 1725.6,193.2 1735.8,211.9 1746,231 1756.3,234.8 1768.6,246.2 1778.8,256 1789,261.3 1797.2,277.6 1801.3,310.4 1807.5,335.9 1815.6,351.9 1825.9,371.9 1836.1,399.8 1846.4,427.6 1856.6,455.3 1864.8,460.9 1875,460.6 1884.6,464 1893.8,474.2 1903,466 1913.2,462.5 1923.5,461.2 1931.7,452.5 1946,432.4 1956.2,417 1966.5,396.3 1974.7,378.1 1982.9,366.3 1993.1,355 2003.3,340.5 2015.6,324.3 2023.8,307.3 2029.9,286.3 2040.2,266.2 2050.4,249.1 2060.7,253 2070.9,229.8 2081.1,224.4 2090.3,218 2099.6,226 2109.8,227.8 2120,237.4 2130.3,233.4 2139.5,236.3 2148.7,220.1 2158.9,222.3 2169.2,220.5 2181.5,224.5 2189.6,222.1 2199.9,227.7 2208.1,246.2 2220.4,269 2228.6,284.2 2236.7,281.3 2247,260.5 2258.2,263.8 2261,262.9 2287.2,168.9 2307,171.1 2316.9,196.2 2336.8,187.9 2346.7,192.6 2362.5,165.2 2376.9,188.5 2376.9,229.7 2362.5,217.3 2346.7,212.8 2336.8,206.5 2316.9,226 2307,195.6 2287.2,173.1 2261,267.3 2258.2,286.3 2247,291.7 2236.7,305.7 2228.6,308.9 2220.4,299.5 2208.1,281.4 2199.9,259 2189.6,250.2 2181.5,249.8 2169.2,245.7 2158.9,248 2148.7,246.1 2139.5,262.7 2130.3,259.4 2120,263.5 2109.8,254.7 2099.6,252.5 2090.3,242.1 2081.1,247.9 2070.9,252.7 2060.7,274.6 2050.4,270.3 2040.2,290 2029.9,313.7 2023.8,333.8 2015.6,349.5 2003.3,361.9 1993.1,376 1982.9,389.3 1974.7,402.1 1966.5,420.7 1956.2,441 1946,454.3 1931.7,471 1923.5,478.7 1913.2,479.4 1903,482 1893.8,490.2 1884.6,480 1875,477.2 1864.8,479 1856.6,476.4 1846.4,455 1836.1,429.5 1825.9,400.1 1815.6,387.4 1807.5,370.6 1801.3,344.2 1797.2,311.5 1789,295 1778.8,279.8 1768.6,269.1 1756.3,260 1746,259.8 1735.8,241.9 1725.6,223.9 1715.3,219.3 1705.1,211.1 1694.8,196 1686.7,166.3 1677.4,150.3 1670.3,162 1660,178.7 1647.7,199.2 1635.5,190.2 1625.2,196.3 1612.9,223.9 1600.7,258.1 1590.4,288.9 1580.2,339.8 1569.9,341.3 1559.7,336.3 1549.5,332 1539.2,345.7 1530,347 1520.8,376.1 1510.6,397.1 1500.3,398.2 1486,389.3 1470.6,376.5 1452.2,395.3 1441,372.9 1421.8,351.1 1408.9,319.6 1394.5,291 1382.3,256.6 1365.9,221.7 1353.6,210.7 1341.3,212.8 1333.1,212.7 1320.8,213.8 1308.6,178.3 1302.4,164.7 1284,165.9 1263.5,170.5 1247.1,195.6 1236.9,207.2 1226.7,205.3 1214.4,211.9 1204.1,220.5 1193.9,274.2 1185.7,302.5 1175.5,304.6 1157,346.6 1144.8,362.6 1136.6,366.2 1126.3,369.2 1112,386.1 1097.7,403.3 1079.2,415.8 1066.9,417.6 1056.7,422.8 1038.3,409.3 1028,390.8 1009.6,334.2 999.4,293.7 969.4,250.9 959.1,227.9 944.8,234.3 930.5,239.1 910,196.7 899.7,188.1 889.5,190 875.2,182.6 860.8,175.2 848.6,193.5 840.4,197.5 832.2,206.5 817.8,236.5 801.5,261.7 791.2,284.9 781,323.8 771.8,359.6 762.6,359.9 752.3,390.3 743.1,394.8 737,416.7 731.8,435.1 723.7,455.2 713.4,473.2 703.2,501.9 694,502.8 684.8,507.5 674.5,519.3 664.3,531.2 654,540.6 643.8,539 634.6,541.4 623.3,497.4 614.1,463.8 604.9,453.6 594.7,423.4 584.4,394.8 566,361 551.7,327.7 539.4,282.6 527.1,241.2 512.8,209.8 500.2,186.3 493.6,175 477.2,163 459.2,173.7 447.8,164.6 434.7,176 418.3,172.8 398.6,170.9 385.5,191 369.1,211.5 348.7,180.1 338.8,180.8"/>
<path stroke="#0b8fd6" stroke-width="4.7" d="M338.8 177.5C340.1 176.8 345 170.1 348.7 172.2C352.7 174.5 364.2 195.2 369.1 194.7C374.1 194.2 381.6 174.3 385.5 168.5C389.5 162.6 394.3 152.4 398.6 150.4C403 148.5 413.5 152.8 418.3 153.7C423.1 154.6 430.7 158.1 434.7 157C438.6 155.9 444.5 145.8 447.8 145.5C451 145.2 455.3 154.7 459.2 154.5C463.2 154.3 472.7 143.6 477.2 143.9C481.8 144.2 490.6 153.5 493.6 157C496.7 160.5 497.7 165.1 500.2 170.1C502.7 175.3 509.2 187.9 512.8 195.8C516.3 203.8 523.5 219.7 527.1 229.6C530.6 239.6 536.1 259.1 539.4 270.6C542.7 282 548.1 305 551.7 315.6C555.2 326.3 561.6 341.4 566 350.4C570.4 359.4 580.6 375 584.4 383.2C588.2 391.4 591.9 404.4 594.7 411.8C597.4 419.3 602.3 434.7 604.9 439.1C607 442.8 612.3 441.5 614.1 445.3C616.6 450.5 620.6 467.9 623.3 478C626.1 488.1 631.9 515 634.6 521C636.1 524.3 641.2 522.5 643.8 523.1C646.4 523.6 651.3 526.2 654 525.1C656.8 524 661.5 517.9 664.3 514.9C667 511.9 671.8 505.6 674.5 502.6C677.2 499.6 682.2 494.6 684.8 492.4C687.3 490.2 691.5 487.3 694 486.2C696.4 485.2 701.3 487.6 703.2 484.6C705.8 480.5 710.7 462.1 713.4 455.5C716.1 448.9 721.2 440 723.7 435C726.1 430.1 730.1 423.1 731.8 418.7C733.6 414.2 735.5 407.4 737 401.6C738.5 395.8 741.1 379.4 743.1 375C744.9 371.2 750.3 372.5 752.3 368.8C754.9 364.2 760 344.4 762.6 340.2C764.5 337 769.9 340.3 771.8 337.1C774.2 333 778.4 318.3 781 309.5C783.6 300.6 788.5 278.5 791.2 270.6C794 262.6 797.9 255.8 801.5 250.1C805 244.4 813.7 234.4 817.8 227.6C821.9 220.7 829.2 204.6 832.2 198.9C835.1 193.3 838.2 187.4 840.4 184.6C842.5 181.8 846.1 181.1 848.6 178C851.3 174.6 857.3 160.2 860.8 159C864.4 157.8 871.3 165.7 875.2 169C879 172.3 886.2 182.2 889.5 184C892.8 185.8 897 182 899.7 182.5C902.5 183 907.4 184.1 910 187.6C914.1 193.4 925.8 220.7 930.5 225.5C934.3 229.5 941 224.6 944.8 223.5C948.6 222.4 955.8 215.1 959.1 217.3C962.4 219.5 964.4 231.9 969.4 239.9C974.7 248.5 994 271.4 999.4 282.2C1004.7 293.1 1005.8 308.1 1009.6 321.1C1013.4 334.1 1024.2 369.3 1028 379.9C1031 388 1034.5 395.4 1038.3 400.3C1042.1 405.2 1052.9 415.2 1056.7 416.7C1060.5 418.2 1063.9 412.5 1066.9 411.6C1069.9 410.6 1075.1 411.6 1079.2 409.5C1083.3 407.5 1093.3 400.3 1097.7 396.2C1102 392.1 1108.2 383.3 1112 378.8C1115.8 374.3 1123 365 1126.3 362.4C1129.5 359.9 1134.1 360.3 1136.6 359.4C1139 358.4 1142.4 357.8 1144.8 355.3C1147.5 352.4 1153.3 344.8 1157 337.5C1161.1 329.4 1171.6 301.1 1175.5 294.5C1177.7 290.6 1183.6 292.4 1185.7 288.4C1188.2 283.7 1191.5 270.8 1193.9 259.7C1196.3 248.5 1201.4 212.5 1204.1 204.4C1205.5 200.3 1211.4 200.4 1214.4 199.1C1217.4 197.8 1223.6 195.2 1226.7 194.8C1229.7 194.4 1234.2 197.4 1236.9 195.8C1239.6 194.2 1243.6 188 1247.1 182.9C1250.7 177.8 1258.6 161.4 1263.5 157.5C1268.4 153.7 1278.8 155.3 1284 154.3C1289.2 153.2 1299.1 148.7 1302.4 150C1305.7 151.2 1306.6 158.2 1308.6 163.5C1311 170.2 1317.6 195 1320.8 200.1C1323.4 204.1 1330.4 201.8 1333.1 202.2C1335.9 202.5 1338.6 203.1 1341.3 202.8C1344 202.5 1350.3 199.2 1353.6 200.1C1356.9 201 1362.5 204.7 1365.9 209.5C1369.7 215 1378.4 232.4 1382.3 241.3C1386.1 250.2 1391 267.6 1394.5 276.1C1398.1 284.5 1405.2 296.7 1408.9 304.8C1412.5 312.8 1417.6 329.2 1421.8 336.5C1426.1 343.8 1436.9 353 1441 359.4C1445 365.7 1448.3 383.1 1452.2 383.9C1456.2 384.8 1466.1 366.3 1470.6 365.5C1475.1 364.7 1482 374.9 1486 377.8C1490 380.7 1497.1 386.5 1500.3 387C1503.6 387.6 1508 385.4 1510.6 381.9C1513.3 378.2 1518.2 367.2 1520.8 359.4C1523.4 351.5 1527.6 327.6 1530 323.2C1531.8 320 1536.6 327.2 1539.2 326.2C1541.8 325.3 1546.7 316.8 1549.5 316C1552.2 315.2 1557 319.3 1559.7 320.1C1562.4 320.9 1567.2 323.1 1569.9 322.2C1572.7 321.2 1578.3 317.8 1580.2 312.9C1582.9 306 1587.7 280 1590.4 269.9C1593.1 259.8 1597.7 245.6 1600.7 237.2C1603.7 228.7 1609.7 213.7 1612.9 206.5C1616.2 199.2 1622.2 186.7 1625.2 182.9C1627.9 179.5 1632.5 177.4 1635.5 177.8C1638.5 178.2 1644.5 187.9 1647.7 186C1651 184.1 1657 168.4 1660 163.5C1663 158.6 1667.9 152.6 1670.3 149.1C1672.6 145.7 1675.3 137.6 1677.4 137.9C1679.6 138.2 1684.3 145.9 1686.7 151.2C1689 156.5 1692.4 172.1 1694.8 177.8C1697.3 183.5 1702.3 190.6 1705.1 194.2C1707.8 197.7 1712.6 202.5 1715.3 204.4C1718 206.3 1722.8 205.5 1725.6 208.5C1728.3 211.5 1733.1 222 1735.8 226.9C1738.5 231.9 1743.3 242.6 1746 245.4C1748.8 248.1 1753.3 245.8 1756.3 247.4C1759.3 249.1 1765.5 254.9 1768.6 257.7C1771.6 260.4 1776.1 265.2 1778.8 267.9C1781.5 270.6 1786.6 274.6 1789 278.1C1791.5 281.7 1795.6 288 1797.2 294.5C1798.9 301.1 1799.9 319.4 1801.3 327.3C1802.7 335.1 1805.5 347.6 1807.5 353.2C1809.4 358.9 1813.2 365.2 1815.6 369.6C1818.1 374 1823.2 380 1825.9 386C1828.6 392 1833.4 407.3 1836.1 414.7C1838.8 422 1843.6 434.5 1846.4 441.3C1849.1 448.1 1854.1 462 1856.6 465.8C1858.5 468.8 1862.3 469.5 1864.8 469.9C1867.2 470.4 1872.4 468.6 1875 468.9C1877.7 469.2 1882.1 470.2 1884.6 472C1887.1 473.8 1891.3 482 1893.8 482.2C1896.2 482.5 1900.4 475.5 1903 474C1905.6 472.5 1910.5 471.5 1913.2 471C1916 470.4 1921 471.2 1923.5 469.9C1925.9 468.7 1928.8 465.1 1931.7 461.8C1934.7 458.2 1942.7 447.7 1946 443.3C1949.3 439 1953.5 433.6 1956.2 429C1959 424.4 1964 413.7 1966.5 408.5C1968.9 403.3 1972.5 394.2 1974.7 390.1C1976.8 386 1980.4 381.1 1982.9 377.8C1985.3 374.5 1990.4 369.1 1993.1 365.5C1995.8 362 2000.3 355 2003.3 351.2C2006.3 347.4 2012.9 341 2015.6 336.9C2018.3 332.8 2021.9 325.4 2023.8 320.5C2025.7 315.6 2027.8 305.7 2029.9 300C2032.1 294.4 2037.5 283.5 2040.2 278.1C2042.9 272.8 2047.7 261.6 2050.4 259.7C2053.1 257.8 2057.9 266.3 2060.7 263.8C2063.4 261.3 2068.2 245 2070.9 241.3C2073.5 237.8 2078.5 237.7 2081.1 236.2C2083.7 234.7 2087.9 229.6 2090.3 230C2092.8 230.4 2097 237.7 2099.6 239.2C2102.2 240.7 2107.1 239.8 2109.8 241.3C2112.5 242.8 2117.3 249.8 2120 250.5C2122.8 251.2 2127.7 246.5 2130.3 246.4C2132.9 246.3 2137 251.2 2139.5 249.5C2141.9 247.7 2146.1 235 2148.7 233.1C2151.3 231.2 2156.2 235.1 2158.9 235.1C2161.7 235.1 2166.2 232.8 2169.2 233.1C2172.2 233.4 2178.7 236.8 2181.5 237.2C2184.2 237.6 2187.2 235.3 2189.6 236.2C2192.1 237 2197.4 239.6 2199.9 243.3C2202.3 247 2205.3 258.3 2208.1 263.8C2210.8 269.3 2217.6 279.9 2220.4 284.3C2223.1 288.6 2226.4 295.3 2228.6 296.6C2230.7 297.8 2234.5 296 2236.7 293.5C2239.2 290.8 2244.1 278.5 2247 276.1C2249.8 273.6 2256.7 275.2 2258.2 275.1"/>
<path stroke="#0b8fd6" stroke-width="4.7" d="M2287.2 171C2289.8 172.7 2303.1 178 2307 183.3C2311 188.7 2313 209.2 2316.9 211.1C2320.9 212.9 2332.8 198.3 2336.8 197.2C2340.7 196.1 2343.2 203.5 2346.7 202.7C2350.1 201.9 2358.5 190.4 2362.5 191.3C2366.6 192.1 2375 206.7 2376.9 209.1"/>
<polygon fill="#f9592a" fill-opacity="0.52" stroke="none" stroke-linejoin="round" points="338.8,173.7 348.7,166 369.1,183.6 385.5,153.4 398.6,139.6 418.3,142.2 434.7,143 447.8,139.4 459.2,143.8 477.2,139.3 493.6,148.8 500.2,158.2 512.8,183.1 527.1,213.6 539.4,244 551.7,278.4 566,311.8 584.4,336.1 594.7,356.3 604.9,374.7 614.1,379 623.3,399.8 634.6,438.2 643.8,444.7 654,447.7 664.3,439.3 674.5,427.3 684.8,419.7 694,414.3 703.2,413.3 713.4,386.6 723.7,368.2 731.8,356.2 737,340.7 743.1,313.5 752.3,305.3 762.6,290.4 771.8,286.3 781,270 791.2,241.6 801.5,227.2 817.8,210.6 832.2,189.2 840.4,173.5 848.6,166.1 860.8,150.5 875.2,160.1 889.5,177.6 899.7,176.2 910,180.5 930.5,206.6 944.8,206.6 959.1,201.4 969.4,219.4 999.4,252.1 1009.6,279.5 1028,330.1 1042.4,352.4 1056.7,362.8 1066.9,357.8 1079.2,355.7 1097.7,345.1 1112,331.5 1126.3,320.4 1136.6,317.3 1157,294.9 1175.5,264.7 1185.7,256.4 1193.9,231.5 1204.1,190.2 1214.4,184.7 1226.7,182.7 1236.9,183.4 1247.1,173.1 1263.5,153.6 1284,148.7 1302.4,144.3 1308.6,156.4 1320.8,183.4 1333.1,188.4 1341.3,188.7 1353.6,186.5 1365.9,194.3 1382.3,217.2 1394.5,245.9 1408.9,270.5 1421.8,294.1 1441,313.9 1452.2,335.5 1470.6,319.2 1486,329.3 1500.3,337.5 1510.6,329.4 1520.8,306.4 1530,281.3 1539.2,286.5 1549.5,277.3 1559.7,280.3 1569.9,281.3 1580.2,269.9 1590.4,241.3 1600.7,213.7 1612.9,190.8 1625.2,172.6 1635.5,167.8 1647.7,174.2 1660,153 1670.3,142.4 1677.4,133.7 1686.7,143.4 1694.8,165 1705.1,178.5 1715.3,187.6 1725.6,191.1 1735.8,205.2 1746,219.7 1756.3,222.7 1768.6,230.5 1778.8,238.3 1789,242.3 1797.2,254.5 1801.3,281 1807.5,305.1 1815.6,323.2 1825.9,341.3 1836.1,363.7 1846.4,380.9 1856.6,398.1 1864.8,402.8 1875,402 1884.6,405.3 1893.8,415.5 1903,408.3 1913.2,405.9 1923.5,404.6 1931.7,397.1 1946,381.7 1960.3,366.8 1966.5,353.4 1974.7,334.9 1982.9,325 1993.1,316 2003.3,304.6 2015.6,292.2 2021.8,282 2029.9,264.9 2040.2,247.8 2050.4,230.9 2060.7,235.9 2070.9,216 2081.1,212.4 2090.3,207.7 2099.6,215.7 2109.8,218.8 2120,225.1 2130.3,222.2 2139.5,226.2 2148.7,213 2158.9,214.1 2169.2,213.3 2181.5,216.3 2189.6,215.8 2199.9,221.3 2208.1,234.8 2220.4,252.2 2228.6,263.7 2236.7,261.8 2247,247 2258.2,248.1 2261,245.3 2287.2,168.7 2307,172.8 2316.9,193.7 2336.8,184.1 2346.7,187.6 2362.5,176.2 2376.9,188.3 2376.9,214.1 2362.5,200.3 2346.7,206.8 2336.8,200.4 2316.9,214.6 2307,189.9 2287.2,172.8 2261,249.7 2258.2,263.1 2247,266.3 2236.7,278.1 2228.6,280.3 2220.4,271.3 2208.1,256 2199.9,240.8 2189.6,234 2181.5,233.5 2169.2,230.4 2158.9,231.6 2148.7,230.6 2139.5,244.1 2130.3,239.9 2120,243.1 2109.8,237.2 2099.6,234.1 2090.3,225.7 2081.1,231.2 2070.9,235.8 2060.7,256.8 2050.4,253.7 2040.2,271.6 2029.9,291.4 2021.8,307 2015.6,316.1 2003.3,326.2 1993.1,337.3 1982.9,348.8 1974.7,359.4 1966.5,377.7 1960.3,390.8 1946,402.6 1931.7,415.9 1923.5,422.6 1913.2,423.5 1903,425.1 1893.8,432.3 1884.6,422 1875,419.2 1864.8,420.4 1856.6,416.9 1846.4,403.4 1836.1,387.8 1825.9,366.5 1815.6,355.9 1807.5,337.2 1801.3,312.2 1797.2,285.4 1789,271 1778.8,258.6 1768.6,250 1756.3,243.4 1746,242.3 1735.8,228.2 1725.6,213.7 1715.3,209 1705.1,201.7 1694.8,188.6 1686.7,163.1 1677.4,150.3 1670.3,159.9 1660,173.9 1647.7,193.7 1635.5,185.8 1625.2,191.2 1612.9,213.9 1600.7,240.2 1590.4,265.8 1580.2,298.6 1569.9,303.6 1559.7,300.5 1549.5,297.4 1539.2,308.7 1530,307.7 1520.8,327.7 1510.6,349.7 1500.3,353.9 1486,345.8 1470.6,335.3 1452.2,351.8 1441,332.5 1421.8,313.3 1408.9,289.8 1394.5,265.3 1382.3,236.7 1365.9,210.4 1353.6,201 1341.3,203 1333.1,203.3 1320.8,201.7 1308.6,174.6 1302.4,162.1 1284,163.9 1263.5,170 1247.1,188.7 1236.9,197.6 1226.7,196.2 1214.4,200.4 1204.1,210.5 1193.9,251.1 1185.7,275.3 1175.5,279.3 1157,308.5 1136.6,329.1 1126.3,332.1 1112,343.5 1097.7,357.2 1079.2,367.2 1066.9,369.1 1056.7,374.3 1042.4,366.3 1028,349 1009.6,301.4 999.4,271.4 969.4,235.8 959.1,216.8 944.8,221.9 930.5,223.9 910,192.7 899.7,184.8 889.5,186.2 875.2,178.7 860.8,171.5 848.6,187.9 840.4,191.6 832.2,200.4 817.8,224 801.5,244.3 791.2,262.7 781,291.6 771.8,322.4 762.6,324.5 752.3,342.3 743.1,346.4 737,364.2 731.8,381.5 723.7,398.1 713.4,412.5 703.2,438.4 694,439.4 684.8,444.3 674.5,455.1 664.3,467.7 654,475.7 643.8,474.5 634.6,472.8 623.3,432 614.1,407.8 604.9,395.7 594.7,373.2 584.4,352.5 566,327.6 551.7,295.5 539.4,260.3 527.1,229.2 512.8,202.4 500.2,180.3 493.6,173.3 477.2,167.4 459.2,171.8 447.8,167.4 434.7,171 418.3,170.2 398.6,169.4 385.5,185.2 369.1,207.3 348.7,178.1 338.8,180.2"/>
<path stroke="#fa5a28" stroke-width="4.7" d="M338.8 177C340.1 176.3 345.1 169.9 348.7 172.1C352.7 174.5 364.2 195.9 369.1 195.5C374.1 195.1 381.6 174.7 385.5 169.3C389.5 163.8 394.3 156.3 398.6 154.5C403 152.8 413.5 155.8 418.3 156.2C423.1 156.5 430.7 157.4 434.7 157C438.6 156.6 444.5 153.3 447.8 153.4C451 153.5 455.3 157.8 459.2 157.8C463.2 157.8 472.7 152.9 477.2 153.4C481.8 153.8 490.6 159 493.6 161.1C496.7 163.2 498.1 165.9 500.2 169.3C502.7 173.5 509.2 185.8 512.8 192.8C516.3 199.7 523.5 213.5 527.1 221.4C530.6 229.3 536.1 243.4 539.4 252.1C542.7 260.9 548.1 277.9 551.7 286.9C555.2 296 561.6 312.1 566 319.7C570.4 327.3 580.6 338.3 584.4 344.3C588.2 350.3 591.9 359.3 594.7 364.8C597.4 370.2 602.3 381.4 604.9 385.2C607.5 389 611.7 389.4 614.1 393.4C616.6 397.5 620.6 407.7 623.3 415.9C626.1 424.2 631.9 449.7 634.6 455.5C636.2 459 641.2 458.8 643.8 459.6C646.4 460.4 651.3 462.5 654 461.7C656.8 460.8 661.5 456.2 664.3 453.5C667 450.7 671.8 444.1 674.5 441.2C677.2 438.3 682.2 433.9 684.8 432C687.3 430.1 691.5 427.7 694 426.9C696.4 426 701.1 428.7 703.2 425.8C705.8 422.2 710.7 405.2 713.4 399.6C716.1 393.9 721.2 387.3 723.7 383.2C726.1 379.1 730.1 372.9 731.8 368.8C733.6 364.8 735.5 357.7 737 352.5C738.5 347.3 741.1 333.8 743.1 329.9C745.1 326.2 749.7 326.8 752.3 323.8C754.9 320.8 760 310 762.6 307.4C765.1 304.8 769.7 307.4 771.8 304.3C774.2 300.8 778.4 287.8 781 280.8C783.6 273.8 788.5 258.1 791.2 252.1C794 246.1 797.9 240.4 801.5 235.8C805 231.1 813.7 222.8 817.8 217.3C821.9 211.9 829.2 199.4 832.2 194.8C835.2 190.2 838.2 184.9 840.4 182.5C842.5 180.1 846 179.7 848.6 177C851.3 174.1 857.3 162 860.8 161C864.4 160 871.3 166.6 875.2 169.4C879 172.2 886.2 180.4 889.5 181.9C892.8 183.4 897 179.8 899.7 180.5C902.5 181.1 907 183.2 910 186.6C914.1 191.3 925.8 211.6 930.5 215.3C934.7 218.7 941 215.1 944.8 214.3C948.6 213.4 955.8 207.4 959.1 209.1C962.4 210.9 964.5 221.2 969.4 227.6C974.7 234.6 994 253.4 999.4 261.8C1004.7 270.1 1005.8 280 1009.6 290.4C1013.4 300.8 1023.7 330.4 1028 339.6C1032 348 1038.6 355.5 1042.4 359.4C1046.2 363.2 1053.4 368 1056.7 368.6C1060 369.1 1063.9 364.4 1066.9 363.5C1069.9 362.5 1075.1 363.1 1079.2 361.4C1083.3 359.8 1093.3 354.4 1097.7 351.2C1102 348 1108.2 340.8 1112 337.5C1115.8 334.2 1123 328.2 1126.3 326.2C1129.6 324.3 1133.4 325.7 1136.6 323.2C1140.7 319.9 1151.8 308.5 1157 301.7C1162.2 294.9 1171.6 276.8 1175.5 272C1178.3 268.4 1183.4 269.7 1185.7 265.8C1188.2 261.8 1191.4 250 1193.9 241.3C1196.3 232.5 1201.4 206.8 1204.1 200.3C1206 195.8 1211.4 194 1214.4 192.5C1217.4 191.1 1223.6 189.7 1226.7 189.5C1229.7 189.2 1234.2 191.6 1236.9 190.5C1239.6 189.4 1243.6 184.7 1247.1 180.9C1250.7 177.1 1258.6 165.1 1263.5 161.8C1268.4 158.6 1278.8 157.5 1284 156.3C1289.2 155.2 1299.1 152 1302.4 153.2C1305.7 154.5 1306.3 160.8 1308.6 165.5C1311 170.8 1317.6 188.5 1320.8 192.5C1323.9 196.3 1330.4 195.4 1333.1 195.8C1335.9 196.3 1338.6 196.1 1341.3 195.8C1344 195.6 1350.3 192.9 1353.6 193.8C1356.9 194.6 1362.2 198.1 1365.9 202.4C1369.7 206.8 1378.4 219.8 1382.3 226.9C1386.1 234 1391 248.5 1394.5 255.6C1398.1 262.7 1405.2 273.8 1408.9 280.2C1412.5 286.6 1417.6 298 1421.8 303.7C1426.1 309.5 1436.9 317.9 1441 323.2C1445 328.5 1448.3 343.1 1452.2 343.7C1456.2 344.2 1466.1 328.1 1470.6 327.3C1475.1 326.5 1482 335.1 1486 337.5C1490 340 1497.1 345.4 1500.3 345.7C1503.6 346 1507.9 343.2 1510.6 339.6C1513.3 335.7 1518.2 323 1520.8 317C1523.4 311 1527.6 297.1 1530 294.5C1532.5 291.9 1536.6 298.5 1539.2 297.6C1541.8 296.6 1546.7 288.3 1549.5 287.3C1552.2 286.4 1557 289.7 1559.7 290.4C1562.4 291.1 1567.2 293.3 1569.9 292.5C1572.7 291.6 1577.9 288.7 1580.2 284.3C1582.9 279.1 1587.7 261.2 1590.4 253.6C1593.1 245.9 1597.7 233.8 1600.7 226.9C1603.7 220.1 1609.7 208.4 1612.9 202.4C1616.2 196.4 1622.2 185.3 1625.2 181.9C1628.1 178.6 1632.5 176.5 1635.5 176.8C1638.5 177.1 1644.5 185.7 1647.7 183.9C1651 182.2 1657 167.8 1660 163.5C1663 159.1 1667.9 154.1 1670.3 151.2C1672.6 148.3 1675.3 141.7 1677.4 142C1679.6 142.2 1684.3 148.6 1686.7 153.2C1689 157.9 1692.4 171.9 1694.8 176.8C1697.3 181.7 1702.3 187.2 1705.1 190.1C1707.8 193 1712.6 196.6 1715.3 198.3C1718 199.9 1722.8 199.9 1725.6 202.4C1728.3 204.8 1733.1 212.9 1735.8 216.7C1738.5 220.5 1743.3 228.9 1746 231C1748.8 233.2 1753.3 231.9 1756.3 233.1C1759.3 234.3 1765.5 238.2 1768.6 240.3C1771.6 242.3 1776.1 246.3 1778.8 248.4C1781.5 250.6 1786.6 253.8 1789 256.6C1791.5 259.5 1795.6 264.6 1797.2 269.9C1798.9 275.3 1799.9 289.7 1801.3 296.6C1802.7 303.4 1805.5 315.4 1807.5 321.1C1809.4 326.9 1813.2 335.2 1815.6 339.6C1818.1 343.9 1823.2 349.1 1825.9 353.9C1828.6 358.7 1833.4 370.7 1836.1 375.8C1838.8 380.9 1843.6 387.9 1846.4 392.1C1849.1 396.4 1854.1 404.9 1856.6 407.5C1859 410 1862.3 411.2 1864.8 411.6C1867.2 412 1872.4 410.3 1875 410.6C1877.7 410.8 1882.1 411.9 1884.6 413.6C1887.1 415.4 1891.3 423.5 1893.8 423.9C1896.2 424.3 1900.4 417.9 1903 416.7C1905.6 415.5 1910.5 415.1 1913.2 414.7C1916 414.3 1921 414.7 1923.5 413.6C1925.9 412.5 1928.7 409.3 1931.7 406.5C1934.7 403.6 1942.2 395.8 1946 392.1C1949.8 388.5 1957.6 382.4 1960.3 378.8C1963.1 375.3 1964.6 369.7 1966.5 365.5C1968.4 361.3 1972.5 351 1974.7 347.1C1976.8 343.3 1980.4 339.6 1982.9 336.9C1985.3 334.2 1990.4 329.5 1993.1 326.7C1995.8 323.8 2000.3 318.4 2003.3 315.4C2006.3 312.4 2013.2 306.9 2015.6 304.1C2018.1 301.4 2019.8 298 2021.8 294.5C2023.7 291 2027.5 282.8 2029.9 278.1C2032.4 273.5 2037.5 264.5 2040.2 259.7C2042.9 254.9 2047.7 244.1 2050.4 242.3C2053.1 240.5 2057.9 248.6 2060.7 246.4C2063.4 244.2 2068.2 229.2 2070.9 225.9C2073.6 222.7 2078.5 223.1 2081.1 221.8C2083.7 220.6 2087.9 216.3 2090.3 216.7C2092.8 217.1 2097 223.4 2099.6 224.9C2102.2 226.4 2107.1 226.7 2109.8 228C2112.5 229.2 2117.3 233.7 2120 234.1C2122.8 234.5 2127.7 230.9 2130.3 231C2132.9 231.2 2137 236.4 2139.5 235.1C2141.9 233.9 2146.1 223.5 2148.7 221.8C2151.3 220.2 2156.2 222.9 2158.9 222.9C2161.7 222.9 2166.2 221.6 2169.2 221.8C2172.2 222.1 2178.7 224.5 2181.5 224.9C2184.2 225.3 2187.2 224.1 2189.6 224.9C2192.1 225.7 2197.4 228.3 2199.9 231C2202.3 233.8 2205.3 241.3 2208.1 245.4C2210.8 249.5 2217.6 258.2 2220.4 261.8C2223.1 265.3 2226.4 270.9 2228.6 272C2230.7 273.1 2234.3 272 2236.7 269.9C2239.2 267.9 2244.1 258.5 2247 256.6C2249.8 254.7 2256.7 255.7 2258.2 255.6"/>
<path stroke="#fa5a28" stroke-width="4.7" d="M2287.2 170.7C2289.8 172.2 2303.1 176.9 2307 181.4C2311 185.8 2313 202.7 2316.9 204.1C2320.9 205.6 2332.8 193.2 2336.8 192.3C2340.7 191.3 2343.2 197.7 2346.7 197.2C2350.1 196.7 2358.5 187.8 2362.5 188.3C2366.6 188.8 2375 199.5 2376.9 201.2"/>
<polygon fill="#5aad2b" fill-opacity="0.5" stroke="none" stroke-linejoin="round" points="338.8,173.5 348.7,167.6 369.1,181 385.5,159.5 398.6,151.2 418.3,153.1 434.7,153.9 447.8,150.3 459.2,154.7 477.2,150.6 493.6,158 500.2,165 512.8,182.5 527.1,205.7 539.4,228.1 551.7,254.8 566,277.9 584.4,296 594.7,314.4 604.9,331.7 614.1,336 623.3,353.5 634.6,383.4 643.8,388.5 654,389.6 664.3,380.8 674.5,371.3 684.8,366.4 694,363.3 703.2,363.1 713.4,346.3 723.7,330.3 731.8,320.4 737,306.3 743.1,283.8 752.3,278.8 762.6,269.3 771.8,266.8 781,249.3 791.2,226.7 801.5,215.4 817.8,201.8 832.2,185.7 840.4,175.6 848.6,172 860.8,160.1 875.2,166.1 889.5,176.3 899.7,174.2 910,181.2 930.5,202.9 944.8,202.1 959.1,197.8 969.4,212.9 999.4,235.7 1009.6,257.5 1028,297.1 1042.4,312.5 1056.7,321.2 1066.9,316.1 1079.2,315 1097.7,308.7 1112,298.4 1126.3,288.8 1136.6,280.8 1157,255.8 1175.5,234.9 1185.7,233.3 1193.9,216.5 1204.1,187.3 1214.4,180.5 1226.7,175.8 1236.9,176.8 1247.1,173.6 1263.5,160.2 1284,153.3 1302.4,150.8 1308.6,156.8 1320.8,176 1333.1,182.9 1341.3,183 1353.6,181 1365.9,189.7 1382.3,207.1 1394.5,229.5 1408.9,250.5 1421.8,269.7 1441,285 1452.2,299.7 1470.6,287.5 1486,295.6 1500.3,301.7 1510.6,296.9 1520.8,278.3 1530,261.9 1539.2,264.7 1549.5,257.8 1559.7,259.8 1569.9,260.5 1580.2,253.4 1590.4,229.9 1600.7,209.1 1612.9,191.6 1625.2,176.4 1635.5,171.5 1647.7,177.6 1660,159.8 1670.3,150.1 1677.4,143 1686.7,151.7 1694.8,169.4 1705.1,181 1715.3,187.7 1725.6,189.7 1735.8,201 1746,212.3 1756.3,213.5 1768.6,217.6 1778.8,224.6 1789,228.9 1797.2,235.4 1801.3,255.7 1807.5,275.9 1815.6,289.9 1825.9,303.9 1836.1,322.6 1846.4,335.4 1856.6,348.5 1864.8,351.8 1875,350.8 1884.6,353 1893.8,361.5 1903,356.4 1913.2,355.3 1923.5,354.6 1931.7,349 1946,337.3 1960.3,326.5 1966.5,316.2 1974.7,301.8 1982.9,292.4 1993.1,283.6 2003.3,276.6 2019.7,263.8 2029.9,246.1 2040.2,235.3 2050.4,222.2 2060.7,223.4 2070.9,208.3 2081.1,204.4 2090.3,200.4 2099.6,206.5 2109.8,208.5 2120,213.7 2130.3,211.7 2139.5,214.7 2148.7,204.5 2158.9,205.5 2169.2,204.5 2181.5,206.6 2189.6,206.4 2199.9,210.1 2208.1,220.9 2220.4,235.7 2228.6,246.5 2236.7,243.4 2247,231.9 2258.2,232 2261,228.3 2287.2,168.4 2307,172.9 2316.9,186.5 2336.8,178.2 2346.7,182.2 2362.5,175.3 2376.9,184.9 2376.9,201.6 2362.5,191.4 2346.7,198.3 2336.8,194.4 2316.9,201.9 2307,185.8 2287.2,172.5 2261,232.7 2258.2,241.5 2247,243.3 2236.7,253.4 2228.6,256.6 2220.4,246.9 2208.1,232.9 2199.9,221.2 2189.6,216.8 2181.5,216.6 2169.2,214.5 2158.9,215.6 2148.7,214.6 2139.5,224.8 2130.3,221.7 2120,223.8 2109.8,218.7 2099.6,216.6 2090.3,210.4 2081.1,214.7 2070.9,219 2060.7,234.6 2050.4,233.8 2040.2,247.3 2029.9,259 2019.7,276.1 2003.3,287.9 1993.1,295.1 1982.9,304.8 1974.7,314.7 1966.5,329 1960.3,339.1 1946,348.7 1931.7,359.6 1923.5,365 1913.2,365.5 1903,366.4 1893.8,371.6 1884.6,363 1875,361 1864.8,362.2 1856.6,359.3 1846.4,347.9 1836.1,336 1825.9,317.9 1815.6,307.3 1807.5,292.6 1801.3,271.9 1797.2,251.2 1789,243.4 1778.8,235.4 1768.6,228.1 1756.3,224 1746,223.2 1735.8,212 1725.6,200.8 1715.3,198.7 1705.1,193 1694.8,182.1 1686.7,163 1677.4,153.2 1670.3,160.5 1660,171.3 1647.7,188.2 1635.5,182 1625.2,187.4 1612.9,205 1600.7,224.3 1590.4,244.5 1580.2,266.1 1569.9,271.2 1559.7,269.9 1549.5,267.8 1539.2,275.2 1530,273.9 1520.8,290.2 1510.6,308.5 1500.3,311.9 1486,305.8 1470.6,297.5 1452.2,309.8 1441,295.8 1421.8,282.4 1408.9,264.8 1394.5,244.8 1382.3,222.2 1365.9,202.7 1353.6,193.1 1341.3,195.1 1333.1,195.2 1320.8,189.8 1308.6,170.2 1302.4,163.8 1284,165.4 1263.5,172.9 1247.1,186.1 1236.9,189.1 1226.7,188 1214.4,193.5 1204.1,201.1 1193.9,229.2 1185.7,253.4 1175.5,260 1157,280 1136.6,296 1126.3,298.2 1112,307 1097.7,317.2 1079.2,323.1 1066.9,324.1 1056.7,329.2 1042.4,321.5 1028,308.3 1009.6,270.1 999.4,246.8 969.4,221.8 959.1,206.2 944.8,210.1 930.5,211.3 910,190 899.7,182.7 889.5,184.6 875.2,174.3 860.8,168.1 848.6,180.8 840.4,185.3 832.2,195.7 817.8,212.4 801.5,227.4 791.2,240.7 781,263.2 771.8,286.6 762.6,288.2 752.3,299.2 743.1,302.4 737,320.8 731.8,335.4 723.7,346 713.4,358.7 703.2,374.6 694,375.2 684.8,379.5 674.5,386.9 664.3,397.8 654,407.4 643.8,406.5 634.6,403.4 623.3,371.9 614.1,352.6 604.9,344.5 594.7,325 584.4,306.5 566,287.8 551.7,265.9 539.4,239.3 527.1,216.7 512.8,194.9 500.2,178.4 493.6,172.3 477.2,166.6 459.2,170.7 447.8,166.3 434.7,169.9 418.3,169.1 398.6,167.7 385.5,177.4 369.1,196.9 348.7,177.5 338.8,179.8"/>
<path stroke="#5aae2c" stroke-width="4.7" d="M338.8 176.6C340.1 176.1 344.9 171 348.7 172.5C352.7 174.2 364.2 189.5 369.1 188.9C374.1 188.4 381.6 172.4 385.5 168.5C389.5 164.5 394.3 160.4 398.6 159.4C403 158.5 413.5 160.8 418.3 161.1C423.1 161.4 430.7 162.3 434.7 161.9C438.6 161.5 444.5 158.2 447.8 158.3C451 158.4 455.3 162.7 459.2 162.7C463.2 162.8 472.7 158.3 477.2 158.6C481.8 159 490.6 163.4 493.6 165.2C496.7 166.9 498 169 500.2 171.7C502.7 174.9 509.2 183.4 512.8 188.7C516.3 193.9 523.5 205.2 527.1 211.2C530.6 217.2 536.1 227.2 539.4 233.7C542.7 240.3 548.1 253.8 551.7 260.3C555.2 266.9 561.6 277.4 566 282.9C570.4 288.3 580.6 296.4 584.4 301.3C588.2 306.2 591.9 314.8 594.7 319.7C597.4 324.6 602.3 334.9 604.9 338.1C607.5 341.4 611.7 341 614.1 344.3C616.6 347.6 620.6 356.2 623.3 362.7C626.1 369.3 631.9 388.8 634.6 393.4C636.5 396.7 641.2 396.8 643.8 397.5C646.4 398.2 651.3 399.6 654 398.5C656.8 397.4 661.5 391.9 664.3 389.3C667 386.7 671.8 381.3 674.5 379.1C677.2 376.9 682.2 374.3 684.8 372.9C687.3 371.6 691.5 369.8 694 369.3C696.4 368.7 700.6 371.1 703.2 368.8C705.8 366.6 710.7 356.6 713.4 352.5C716.1 348.4 721.2 341.4 723.7 338.1C726.1 334.9 730.1 331.2 731.8 327.9C733.6 324.6 735.5 318.2 737 313.6C738.5 308.9 741.1 296.4 743.1 293.1C745.1 289.8 749.7 290.9 752.3 289C754.9 287.1 760 280.4 762.6 278.8C765.1 277.1 769.5 279.5 771.8 276.7C774.2 273.7 778.4 262 781 256.2C783.6 250.5 788.5 238.4 791.2 233.7C794 229.1 797.9 225 801.5 221.4C805 217.9 813.7 211.2 817.8 207.1C821.9 203 829.2 194.3 832.2 190.7C835.2 187.2 838.2 182.4 840.4 180.5C842.5 178.6 845.8 178.6 848.6 176.4C851.3 174.2 857.3 164.9 860.8 164.1C864.4 163.3 871.3 168.1 875.2 170.2C879 172.4 886.2 179.4 889.5 180.5C892.8 181.6 897 177.7 899.7 178.4C902.5 179.1 906.5 182.4 910 185.6C914.1 189.4 925.8 204.4 930.5 207.1C935.1 209.8 941 206.8 944.8 206.1C948.6 205.4 955.8 200.5 959.1 202C962.4 203.5 964.3 212.4 969.4 217.3C974.7 222.6 994 235.1 999.4 241.3C1004.7 247.5 1005.8 255.6 1009.6 263.8C1013.4 272 1023.7 295.6 1028 302.7C1032.1 309.3 1038.6 314 1042.4 317C1046.2 320 1053.4 324.8 1056.7 325.2C1060 325.6 1063.9 320.9 1066.9 320.1C1069.9 319.3 1075.1 320 1079.2 319.1C1083.3 318.1 1093.3 315.1 1097.7 312.9C1102 310.8 1108.2 305.3 1112 302.7C1115.8 300.1 1123 295.4 1126.3 293.5C1129.6 291.6 1133.2 291.2 1136.6 288.4C1140.7 285 1151.8 273.4 1157 267.9C1162.2 262.4 1171.6 250.7 1175.5 247.4C1178.6 244.7 1183.2 246.6 1185.7 243.3C1188.2 240 1191.4 229.4 1193.9 222.9C1196.3 216.3 1201.4 199 1204.1 194.2C1206.5 190.1 1211.4 188.7 1214.4 187C1217.4 185.4 1223.6 182.4 1226.7 181.9C1229.7 181.4 1234.2 183.2 1236.9 182.9C1239.6 182.7 1243.7 182 1247.1 179.9C1250.7 177.7 1258.6 169.3 1263.5 166.5C1268.4 163.8 1278.8 160.6 1284 159.4C1289.2 158.1 1299.1 156.8 1302.4 157.3C1305.7 157.9 1306.6 160.8 1308.6 163.5C1311 166.9 1317.6 179.5 1320.8 182.9C1324.1 186.3 1330.4 188.2 1333.1 189.1C1335.9 189.9 1338.6 189.3 1341.3 189.1C1344 188.8 1350.3 186.1 1353.6 187C1356.9 188 1362.1 192.5 1365.9 196.2C1369.7 199.9 1378.4 209.2 1382.3 214.7C1386.1 220.1 1391 231.4 1394.5 237.2C1398.1 242.9 1405.2 252.5 1408.9 257.7C1412.5 262.8 1417.6 271.7 1421.8 276.1C1426.1 280.5 1436.9 286.6 1441 290.4C1445 294.2 1448.3 304.5 1452.2 304.8C1456.2 305 1466.1 293 1470.6 292.5C1475.1 291.9 1482 298.7 1486 300.7C1490 302.6 1497.1 306.5 1500.3 306.8C1503.6 307.1 1507.8 305.7 1510.6 302.7C1513.3 299.7 1518.2 288.9 1520.8 284.3C1523.4 279.6 1527.6 269.8 1530 267.9C1532.5 266 1536.6 270.6 1539.2 269.9C1541.8 269.3 1546.7 263.5 1549.5 262.8C1552.2 262.1 1557 264.4 1559.7 264.8C1562.4 265.2 1567.2 266.5 1569.9 265.8C1572.7 265.2 1577.5 263.4 1580.2 259.7C1582.9 255.9 1587.7 242.9 1590.4 237.2C1593.1 231.4 1597.7 221.9 1600.7 216.7C1603.7 211.5 1609.7 202.9 1612.9 198.3C1616.2 193.6 1622.2 184.8 1625.2 181.9C1628.2 179 1632.5 176.6 1635.5 176.8C1638.5 176.9 1644.5 184.4 1647.7 182.9C1651 181.4 1657 169.2 1660 165.5C1663 161.8 1667.9 157.6 1670.3 155.3C1672.6 153 1675.3 147.8 1677.4 148.1C1679.6 148.4 1684.3 153.6 1686.7 157.3C1689 161 1692.4 171.8 1694.8 175.8C1697.3 179.7 1702.3 184.7 1705.1 187C1707.8 189.3 1712.6 192.1 1715.3 193.2C1718 194.3 1722.8 193.4 1725.6 195.2C1728.3 197 1733.1 203.5 1735.8 206.5C1738.5 209.5 1743.3 216.1 1746 217.7C1748.8 219.4 1753.3 218.1 1756.3 218.8C1759.3 219.4 1765.5 221.3 1768.6 222.9C1771.6 224.4 1776.1 228.2 1778.8 230C1781.5 231.8 1786.6 234.4 1789 236.2C1791.5 237.9 1795.6 239.6 1797.2 243.3C1798.9 247 1799.9 258.3 1801.3 263.8C1802.7 269.3 1805.5 279.6 1807.5 284.3C1809.4 288.9 1813.2 295.1 1815.6 298.6C1818.1 302.2 1823.2 306.8 1825.9 310.9C1828.6 315 1833.4 325.2 1836.1 329.3C1838.8 333.4 1843.6 338.3 1846.4 341.6C1849.1 344.9 1854.1 351.8 1856.6 353.9C1859 355.9 1862.3 356.7 1864.8 357C1867.2 357.2 1872.4 355.8 1875 355.9C1877.7 356.1 1882.1 356.6 1884.6 358C1887.1 359.4 1891.3 366.1 1893.8 366.5C1896.2 367 1900.4 362.2 1903 361.4C1905.6 360.6 1910.5 360.6 1913.2 360.4C1916 360.2 1921 360.6 1923.5 359.8C1925.9 359 1928.7 356.5 1931.7 354.3C1934.7 352.1 1942.2 345.9 1946 343C1949.8 340.2 1957.6 335.5 1960.3 332.8C1963.1 330.1 1964.6 325.8 1966.5 322.6C1968.4 319.3 1972.5 311.4 1974.7 308.2C1976.8 305 1980.4 301.1 1982.9 298.6C1985.3 296.1 1990.4 291.6 1993.1 289.4C1995.8 287.2 1999.8 284.8 2003.3 282.2C2006.9 279.6 2016.2 273.9 2019.7 269.9C2023.3 266 2027.2 256.4 2029.9 252.5C2032.7 248.7 2037.5 244.6 2040.2 241.3C2042.9 238 2047.7 229.6 2050.4 228C2053.1 226.3 2057.9 230.9 2060.7 229C2063.4 227.1 2068.2 216.2 2070.9 213.6C2073.6 211 2078.5 210.6 2081.1 209.5C2083.7 208.4 2087.9 205.2 2090.3 205.4C2092.8 205.7 2097 210.5 2099.6 211.6C2102.2 212.7 2107.1 212.7 2109.8 213.6C2112.5 214.6 2117.3 218.3 2120 218.8C2122.8 219.2 2127.7 216.6 2130.3 216.7C2132.9 216.8 2137 220.7 2139.5 219.8C2141.9 218.8 2146.1 210.8 2148.7 209.5C2151.3 208.3 2156.2 210.6 2158.9 210.6C2161.7 210.6 2166.2 209.4 2169.2 209.5C2172.2 209.7 2178.7 211.3 2181.5 211.6C2184.2 211.9 2187.2 211 2189.6 211.6C2192.1 212.1 2197.4 213.6 2199.9 215.7C2202.3 217.7 2205.3 223.5 2208.1 226.9C2210.8 230.4 2217.6 238 2220.4 241.3C2223.1 244.6 2226.4 250.6 2228.6 251.5C2230.7 252.5 2234.3 250.3 2236.7 248.4C2239.2 246.6 2244.1 239.1 2247 237.6C2249.8 236 2256.7 236.9 2258.2 236.8"/>
<path stroke="#5aae2c" stroke-width="4.7" d="M2287.2 170.5C2289.8 171.6 2303.1 176.2 2307 179.4C2311 182.5 2313 193.3 2316.9 194.2C2320.9 195.2 2332.8 186.8 2336.8 186.3C2340.7 185.8 2343.2 190.7 2346.7 190.3C2350.1 189.9 2358.5 182.9 2362.5 183.3C2366.6 183.7 2375 191.9 2376.9 193.2"/>
</g>
<rect x="1404" y="658.3" width="216" height="52.7" fill="#ebebeb"/>
<line x1="1406" y1="684.4" x2="1619" y2="684.4" stroke="#111111" stroke-width="5.6" stroke-linecap="round"/>
<text x="1636.5" y="698" font-size="43.5" textLength="221" lengthAdjust="spacingAndGlyphs" style="fill:#161616;stroke:#161616;stroke-width:0.6px">2013/12/21</text>
<rect x="1404" y="738.7" width="216" height="49.7" fill="#b5e69b"/>
<line x1="1406" y1="764.8" x2="1619" y2="764.8" stroke="#0db14b" stroke-width="5.6" stroke-linecap="round"/>
<text x="1636.5" y="781.8" font-size="43.5" textLength="221" lengthAdjust="spacingAndGlyphs" style="fill:#161616;stroke:#161616;stroke-width:0.6px">2014/06/11</text>
<rect x="1887.5" y="578.8" width="215.5" height="53.2" fill="#ffa992"/>
<line x1="1889.5" y1="605.6" x2="2102" y2="605.6" stroke="#ff0d0d" stroke-width="5.6" stroke-linecap="round"/>
<text x="2119.5" y="622.2" font-size="43.5" textLength="221" lengthAdjust="spacingAndGlyphs" style="fill:#161616;stroke:#161616;stroke-width:0.6px">2015/06/06</text>
<rect x="1887.5" y="661" width="215.5" height="49.5" fill="#4fdcf7"/>
<line x1="1889.5" y1="689" x2="2102" y2="689" stroke="#0070c8" stroke-width="5.6" stroke-linecap="round"/>
<text x="2119.5" y="705.7" font-size="43.5" textLength="221" lengthAdjust="spacingAndGlyphs" style="fill:#161616;stroke:#161616;stroke-width:0.6px">2016/11/07</text>
<rect x="1887.5" y="738.7" width="215.5" height="50.1" fill="#fffb85"/>
<line x1="1889.5" y1="762" x2="2102" y2="762" stroke="#ffb400" stroke-width="5.6" stroke-linecap="round"/>
<text x="2119.5" y="781.8" font-size="43.5" textLength="221" lengthAdjust="spacingAndGlyphs" style="fill:#161616;stroke:#161616;stroke-width:0.6px">2017/05/22</text>
<rect x="459" y="921.5" width="1781" height="84" fill="url(#water)"/>
<path d="M165 874C168.2 874.5 179.7 874.9 186.6 877C193.5 879.1 202.1 883.6 211.2 888.3C222 893.8 245.1 909.4 258.3 913.9C271.5 918.4 289.4 916.6 299.2 918C308.6 919.3 314.3 922.6 323.8 923C333.6 923.5 355.5 920.7 364.7 921C372.6 921.2 377.8 924.3 385.2 924.7C392.6 925.1 403 923.6 413.9 923.5C425 923.4 442.1 923.1 459.3 924C487.2 925.5 562.7 931.3 600 933.5C637.3 935.7 682.2 935.5 708 938.6C732.9 941.6 760 951.7 772.2 954.2C778.6 955.5 782.8 955.5 789.4 955.6C798.2 955.7 818 954.3 831 955C844 955.7 861.1 959.3 876 960.2C890.9 961.1 914.1 960.3 930 960.8C945.9 961.3 969.6 962.8 981.7 963.7C992.6 964.5 1002.2 965.4 1010.4 966.5C1018.6 967.6 1026.3 970.6 1036.2 970.9C1047.4 971.2 1068.6 968.6 1085 968.8C1101.4 969 1127.6 971.4 1145.3 972.3C1163 973.2 1187.3 974 1202.7 974.6C1218.1 975.2 1234.5 976.3 1248 976.6C1261.5 976.9 1275.6 976.1 1292.5 976.6C1319.5 977.5 1402.5 981.9 1428 982.3C1441.1 982.5 1449.3 979.1 1462.4 979.5C1477.9 979.9 1512.4 983.3 1531.3 985.2C1550.2 987.1 1573.6 992.5 1588.7 992.4C1603.8 992.3 1620.9 985.5 1631.7 984.3C1642.5 983.1 1649.6 983 1660.4 984.3C1671.5 985.6 1692.2 991.4 1705.5 993C1718.8 994.6 1739.8 995 1749.4 994.7C1757.2 994.5 1761.7 991.1 1769.5 991C1785 990.9 1832 992.5 1852.7 993.8C1873.4 995.1 1894.3 999.6 1907.2 999.6C1919.4 999.6 1929.5 996.7 1938.8 993.8C1948.1 990.9 1957.8 981.7 1969.3 980C1980.8 978.3 2003.2 981.7 2015.3 982.3C2027.4 982.9 2040.4 984.3 2049.7 984.3C2059 984.3 2066.8 984.2 2077 982.3C2087.8 980.3 2109.6 973.9 2121.4 970.9C2133.2 967.9 2143.8 966.7 2155.9 962.2C2168 957.7 2189.3 946.7 2201.8 940.7C2214.3 934.7 2228.8 926.3 2239.1 922C2249.4 917.7 2261.2 914.5 2270.7 912C2280.2 909.5 2293.3 908.6 2302.3 905.4C2311.3 902.2 2322.4 894.9 2331 890.5C2339.6 886.1 2353 878.6 2359.7 876C2365.4 873.8 2373.2 873.7 2375.6 873.3 L2375.6 1130 L165 1130 Z" fill="#c2c2c2" stroke="none"/>
<path d="M165 874C168.2 874.5 179.7 874.9 186.6 877C193.5 879.1 202.1 883.6 211.2 888.3C222 893.8 245.1 909.4 258.3 913.9C271.5 918.4 289.4 916.6 299.2 918C308.6 919.3 314.3 922.6 323.8 923C333.6 923.5 355.5 920.7 364.7 921C372.6 921.2 377.8 924.3 385.2 924.7C392.6 925.1 403 923.6 413.9 923.5C425 923.4 442.1 923.1 459.3 924C487.2 925.5 562.7 931.3 600 933.5C637.3 935.7 682.2 935.5 708 938.6C732.9 941.6 760 951.7 772.2 954.2C778.6 955.5 782.8 955.5 789.4 955.6C798.2 955.7 818 954.3 831 955C844 955.7 861.1 959.3 876 960.2C890.9 961.1 914.1 960.3 930 960.8C945.9 961.3 969.6 962.8 981.7 963.7C992.6 964.5 1002.2 965.4 1010.4 966.5C1018.6 967.6 1026.3 970.6 1036.2 970.9C1047.4 971.2 1068.6 968.6 1085 968.8C1101.4 969 1127.6 971.4 1145.3 972.3C1163 973.2 1187.3 974 1202.7 974.6C1218.1 975.2 1234.5 976.3 1248 976.6C1261.5 976.9 1275.6 976.1 1292.5 976.6C1319.5 977.5 1402.5 981.9 1428 982.3C1441.1 982.5 1449.3 979.1 1462.4 979.5C1477.9 979.9 1512.4 983.3 1531.3 985.2C1550.2 987.1 1573.6 992.5 1588.7 992.4C1603.8 992.3 1620.9 985.5 1631.7 984.3C1642.5 983.1 1649.6 983 1660.4 984.3C1671.5 985.6 1692.2 991.4 1705.5 993C1718.8 994.6 1739.8 995 1749.4 994.7C1757.2 994.5 1761.7 991.1 1769.5 991C1785 990.9 1832 992.5 1852.7 993.8C1873.4 995.1 1894.3 999.6 1907.2 999.6C1919.4 999.6 1929.5 996.7 1938.8 993.8C1948.1 990.9 1957.8 981.7 1969.3 980C1980.8 978.3 2003.2 981.7 2015.3 982.3C2027.4 982.9 2040.4 984.3 2049.7 984.3C2059 984.3 2066.8 984.2 2077 982.3C2087.8 980.3 2109.6 973.9 2121.4 970.9C2133.2 967.9 2143.8 966.7 2155.9 962.2C2168 957.7 2189.3 946.7 2201.8 940.7C2214.3 934.7 2228.8 926.3 2239.1 922C2249.4 917.7 2261.2 914.5 2270.7 912C2280.2 909.5 2293.3 908.6 2302.3 905.4C2311.3 902.2 2322.4 894.9 2331 890.5C2339.6 886.1 2353 878.6 2359.7 876C2365.4 873.8 2373.2 873.7 2375.6 873.3" fill="none" stroke="#505050" stroke-width="2" stroke-linejoin="round"/>
<path d="M2375.2 874 V1130" fill="none" stroke="#6e6e6e" stroke-width="1.8"/>
<path d="M166.6 873 V1131" fill="none" stroke="#3c3c3c" stroke-width="3.4"/>
<path d="M165 1130.9 H2376" fill="none" stroke="#3a3a3a" stroke-width="3.5"/>
<g stroke="#0586d6" stroke-width="3.7" stroke-linecap="round" fill="none">
<line x1="434" y1="815" x2="278.8" y2="872"/>
<line x1="434" y1="818.2" x2="307.4" y2="872"/>
<line x1="434" y1="821.4" x2="334" y2="872"/>
<line x1="434" y1="824.7" x2="356.6" y2="872"/>
<line x1="434" y1="828" x2="376" y2="872"/>
<line x1="442" y1="828" x2="497.8" y2="872"/>
<line x1="442" y1="824.7" x2="515.3" y2="872"/>
<line x1="442" y1="821.4" x2="535.7" y2="872"/>
<line x1="442" y1="818.2" x2="558.2" y2="872"/>
<line x1="442" y1="815" x2="590" y2="872"/>
<line x1="851.1" y1="815" x2="699" y2="872"/>
<line x1="851.1" y1="818.2" x2="727.7" y2="872"/>
<line x1="851.1" y1="821.4" x2="753.5" y2="872"/>
<line x1="851.1" y1="824.7" x2="778" y2="872"/>
<line x1="851.1" y1="828" x2="796.6" y2="872"/>
<line x1="859.1" y1="828" x2="920" y2="872"/>
<line x1="859.1" y1="824.7" x2="937.2" y2="872"/>
<line x1="859.1" y1="821.4" x2="957.3" y2="872"/>
<line x1="859.1" y1="818.2" x2="978.8" y2="872"/>
<line x1="859.1" y1="815" x2="1010.4" y2="872"/>
<line x1="1267" y1="815" x2="1118" y2="872"/>
<line x1="1267" y1="818.2" x2="1146.7" y2="872"/>
<line x1="1267" y1="821.4" x2="1174" y2="872"/>
<line x1="1267" y1="824.7" x2="1197" y2="872"/>
<line x1="1267" y1="828" x2="1215.6" y2="872"/>
<line x1="1275" y1="828" x2="1333.2" y2="872"/>
<line x1="1275" y1="824.7" x2="1353.3" y2="872"/>
<line x1="1275" y1="821.4" x2="1373.4" y2="872"/>
<line x1="1275" y1="818.2" x2="1395" y2="872"/>
<line x1="1275" y1="815" x2="1426.5" y2="872"/>
<line x1="1679.8" y1="815" x2="1525.5" y2="872"/>
<line x1="1679.8" y1="818.2" x2="1555.7" y2="872"/>
<line x1="1679.8" y1="821.4" x2="1581.5" y2="872"/>
<line x1="1679.8" y1="824.7" x2="1604.4" y2="872"/>
<line x1="1679.8" y1="828" x2="1623.1" y2="872"/>
<line x1="1687.8" y1="828" x2="1743.6" y2="872"/>
<line x1="1687.8" y1="824.7" x2="1762.3" y2="872"/>
<line x1="1687.8" y1="821.4" x2="1782.4" y2="872"/>
<line x1="1687.8" y1="818.2" x2="1805.3" y2="872"/>
<line x1="1687.8" y1="815" x2="1836.9" y2="872"/>
<line x1="2096.3" y1="815" x2="1938.6" y2="872"/>
<line x1="2096.3" y1="818.2" x2="1969.3" y2="872"/>
<line x1="2096.3" y1="821.4" x2="1994.3" y2="872"/>
<line x1="2096.3" y1="824.7" x2="2018.1" y2="872"/>
<line x1="2096.3" y1="828" x2="2037.6" y2="872"/>
<line x1="2104.3" y1="828" x2="2154.4" y2="872"/>
<line x1="2104.3" y1="824.7" x2="2173.1" y2="872"/>
<line x1="2104.3" y1="821.4" x2="2193.2" y2="872"/>
<line x1="2104.3" y1="818.2" x2="2216.2" y2="872"/>
<line x1="2104.3" y1="815" x2="2247.7" y2="872"/>
</g>
<line x1="165" y1="873.3" x2="2377.5" y2="873.3" stroke="#454545" stroke-width="4.6"/>
<line x1="211" y1="888.5" x2="2333" y2="888.5" stroke="#454545" stroke-width="4"/>
<rect x="2372.5" y="871" width="5.5" height="18.5" fill="#222"/>
<rect x="414" y="923.5" width="45.3" height="123.5" fill="#7a7373" stroke="#4c4848" stroke-width="1.6"/>
<path d="M432.3 924.5 V806.5 a5.7 5.7 0 0 1 11.4 0 V924.5 Z" fill="url(#tower)" stroke="#4a4646" stroke-width="1.5"/>
<ellipse cx="438" cy="803.3" rx="3.6" ry="2.2" fill="#3a3636"/>
<text x="436.7" y="1106" font-size="66" font-weight="bold" text-anchor="middle" textLength="76.5" lengthAdjust="spacingAndGlyphs" style="fill:#0a0a0a;stroke:#0a0a0a;stroke-width:1.7px;stroke-linejoin:round">P1</text>
<rect x="831" y="923.5" width="45" height="123.5" fill="#7a7373" stroke="#4c4848" stroke-width="1.6"/>
<path d="M849.4 924.5 V806.5 a5.7 5.7 0 0 1 11.4 0 V924.5 Z" fill="url(#tower)" stroke="#4a4646" stroke-width="1.5"/>
<ellipse cx="855.1" cy="803.3" rx="3.6" ry="2.2" fill="#3a3636"/>
<text x="852.6" y="1106" font-size="66" font-weight="bold" text-anchor="middle" textLength="76.5" lengthAdjust="spacingAndGlyphs" style="fill:#0a0a0a;stroke:#0a0a0a;stroke-width:1.7px;stroke-linejoin:round">P2</text>
<rect x="1248" y="923.5" width="44.5" height="123.5" fill="#7a7373" stroke="#4c4848" stroke-width="1.6"/>
<path d="M1265.3 924.5 V806.5 a5.7 5.7 0 0 1 11.4 0 V924.5 Z" fill="url(#tower)" stroke="#4a4646" stroke-width="1.5"/>
<ellipse cx="1271" cy="803.3" rx="3.6" ry="2.2" fill="#3a3636"/>
<text x="1269.4" y="1106" font-size="66" font-weight="bold" text-anchor="middle" textLength="76.5" lengthAdjust="spacingAndGlyphs" style="fill:#0a0a0a;stroke:#0a0a0a;stroke-width:1.7px;stroke-linejoin:round">P3</text>
<rect x="1660.4" y="923.5" width="45.1" height="123.5" fill="#7a7373" stroke="#4c4848" stroke-width="1.6"/>
<path d="M1678.1 924.5 V806.5 a5.7 5.7 0 0 1 11.4 0 V924.5 Z" fill="url(#tower)" stroke="#4a4646" stroke-width="1.5"/>
<ellipse cx="1683.8" cy="803.3" rx="3.6" ry="2.2" fill="#3a3636"/>
<text x="1685" y="1106" font-size="66" font-weight="bold" text-anchor="middle" textLength="76.5" lengthAdjust="spacingAndGlyphs" style="fill:#0a0a0a;stroke:#0a0a0a;stroke-width:1.7px;stroke-linejoin:round">P4</text>
<rect x="2077" y="923.5" width="44.4" height="123.5" fill="#7a7373" stroke="#4c4848" stroke-width="1.6"/>
<path d="M2094.6 924.5 V806.5 a5.7 5.7 0 0 1 11.4 0 V924.5 Z" fill="url(#tower)" stroke="#4a4646" stroke-width="1.5"/>
<ellipse cx="2100.3" cy="803.3" rx="3.6" ry="2.2" fill="#3a3636"/>
<text x="2100.7" y="1106" font-size="66" font-weight="bold" text-anchor="middle" textLength="76.5" lengthAdjust="spacingAndGlyphs" style="fill:#0a0a0a;stroke:#0a0a0a;stroke-width:1.7px;stroke-linejoin:round">P5</text>
<text x="148.5" y="51.3" font-size="42" text-anchor="end">10</text>
<text x="148.5" y="188.1" font-size="42" text-anchor="end">0</text>
<text x="148.5" y="324.9" font-size="42" text-anchor="end">-10</text>
<text x="148.5" y="461.7" font-size="42" text-anchor="end">-20</text>
<text x="148.5" y="598.5" font-size="42" text-anchor="end">-30</text>
<text x="148.5" y="735.3" font-size="42" text-anchor="end">-40</text>
<text x="148.5" y="872.1" font-size="42" text-anchor="end">-50</text>
<text x="148.5" y="1008.9" font-size="42" text-anchor="end">-60</text>
<text x="148.5" y="1145.7" font-size="42" text-anchor="end">-70</text>
<text x="162.5" y="1180.5" font-size="42" text-anchor="middle">0</text>
<text x="408.4" y="1180.5" font-size="42" text-anchor="middle">100</text>
<text x="654.3" y="1180.5" font-size="42" text-anchor="middle">200</text>
<text x="900.2" y="1180.5" font-size="42" text-anchor="middle">300</text>
<text x="1146.1" y="1180.5" font-size="42" text-anchor="middle">400</text>
<text x="1392.1" y="1180.5" font-size="42" text-anchor="middle">500</text>
<text x="1638" y="1180.5" font-size="42" text-anchor="middle">600</text>
<text x="1883.9" y="1180.5" font-size="42" text-anchor="middle">700</text>
<text x="2129.8" y="1180.5" font-size="42" text-anchor="middle">800</text>
<text x="2375.7" y="1180.5" font-size="42" text-anchor="middle">900</text>
<text x="1269.6" y="1237.3" font-size="45" text-anchor="middle">Distance [m]</text>
<text transform="translate(70.2 584) rotate(-90)" font-size="45" text-anchor="middle" textLength="555" lengthAdjust="spacingAndGlyphs">Vertical Displacement [mm]</text>
</g>
</svg></body></html>
